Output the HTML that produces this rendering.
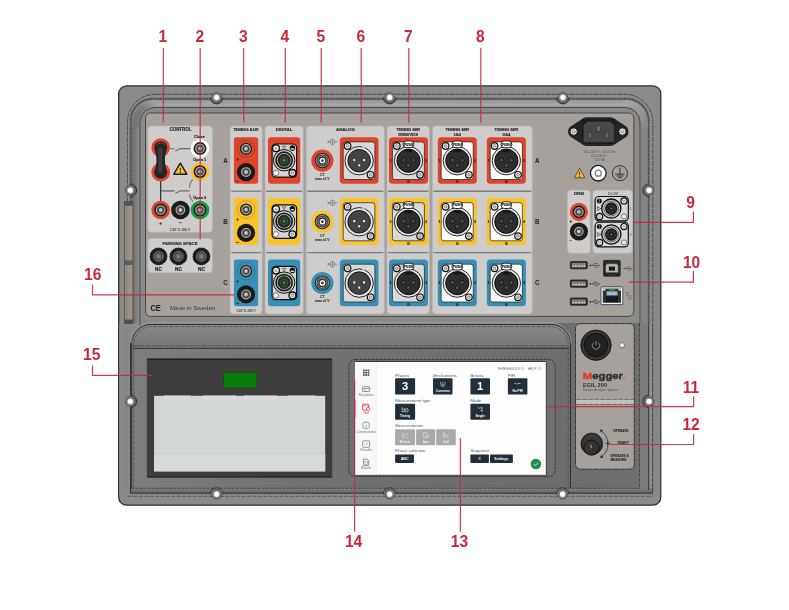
<!DOCTYPE html>
<html lang="en"><head><meta charset="utf-8"><title>EGIL 200 panel overview</title>
<style>
html,body{margin:0;padding:0;background:#fff;}
body{width:789px;height:610px;overflow:hidden;font-family:"Liberation Sans",sans-serif;}
svg{display:block;font-family:"Liberation Sans",sans-serif;will-change:transform;}
</style></head>
<body>
<svg width="789" height="610" viewBox="0 0 789 610">
<rect x="0" y="0" width="789" height="610" fill="#ffffff"/>
<defs>
<linearGradient id="chanH" x1="0" y1="0" x2="0" y2="1"><stop offset="0" stop-color="#8e8e8e"/><stop offset="0.45" stop-color="#a6a6a6"/><stop offset="1" stop-color="#8a8a8a"/></linearGradient>
<linearGradient id="cover1" x1="0" y1="0" x2="0" y2="1"><stop offset="0" stop-color="#8a8a8a"/><stop offset="1" stop-color="#777777"/></linearGradient>
<linearGradient id="cover2" x1="0" y1="0" x2="0" y2="1"><stop offset="0" stop-color="#747474"/><stop offset="1" stop-color="#6c6c6c"/></linearGradient>
<radialGradient id="knob" cx="0.5" cy="0.5" r="0.5"><stop offset="0" stop-color="#3a3a3a"/><stop offset="0.7" stop-color="#1c1c1c"/><stop offset="1" stop-color="#2c2c2c"/></radialGradient>
</defs>
<rect x="118.70" y="85.80" width="542.10" height="419.40" rx="8" fill="#8a8a8a" stroke="#303030" stroke-width="1.3" />
<path d="M155.4,94.3 H624.8 A28,28 0 0 1 652.8,122.3 V496.2 H127.4 V122.3 A28,28 0 0 1 155.4,94.3 Z" fill="#8c8c8c"/>
<path d="M130.8,324 V120.7 A22,22 0 0 1 152.8,98.7 H626.6 A22,22 0 0 1 648.6,120.7 V324" fill="none" stroke="#505050" stroke-width="2.0" stroke-dasharray="2.2 0.35"/>
<linearGradient id="bandT" gradientUnits="userSpaceOnUse" x1="0" y1="100" x2="0" y2="107"><stop offset="0" stop-color="#959595"/><stop offset="0.6" stop-color="#a6a6a6"/><stop offset="1" stop-color="#9a9a9a"/></linearGradient>
<linearGradient id="bandCL" gradientUnits="userSpaceOnUse" x1="136" y1="122" x2="156" y2="103"><stop offset="0" stop-color="#747474"/><stop offset="0.55" stop-color="#7e7e7e"/><stop offset="1" stop-color="#a2a2a2"/></linearGradient>
<linearGradient id="bandCR" gradientUnits="userSpaceOnUse" x1="644" y1="122" x2="624" y2="103"><stop offset="0" stop-color="#8a8a8a"/><stop offset="0.5" stop-color="#9a9a9a"/><stop offset="1" stop-color="#a6a6a6"/></linearGradient>
<rect x="154.00" y="100.10" width="472.00" height="6.80" fill="url(#bandT)" />
<path d="M135.6,128 V123 A19.6,19.6 0 0 1 155.2,103.4" fill="none" stroke="url(#bandCL)" stroke-width="6.7"/>
<path d="M644.4,128 V123 A19.6,19.6 0 0 0 624.8,103.4" fill="none" stroke="url(#bandCR)" stroke-width="6.7"/>
<linearGradient id="sideL" x1="0" y1="0" x2="1" y2="0"><stop offset="0" stop-color="#6c6c6c"/><stop offset="1" stop-color="#8c8c8c"/></linearGradient>
<rect x="131.80" y="127.00" width="7.80" height="196.00" fill="url(#sideL)" />
<rect x="641.00" y="127.00" width="6.60" height="196.00" fill="#858585" />
<path d="M155.4,94.3 H624.8 A28,28 0 0 1 652.8,122.3 V496.2 M127.4,496.2 V122.3 A28,28 0 0 1 155.4,94.3" fill="none" stroke="#3c3c3c" stroke-width="0.8" stroke-dasharray="5 1"/>
<path d="M155,107.5 H625 A15,15 0 0 1 640,122.5 V493.2 H140 V122.5 A15,15 0 0 1 155,107.5 Z" fill="#8a8a8a" stroke="#3a3a3a" stroke-width="0.8"/>
<rect x="119.40" y="323.00" width="11.10" height="173.20" fill="#888888" />
<rect x="652.80" y="323.00" width="7.40" height="173.20" fill="#888888" />
<rect x="127.40" y="493.20" width="525.40" height="3.20" fill="#8a8a8a" />
<linearGradient id="floorg" gradientUnits="userSpaceOnUse" x1="134" y1="0" x2="640" y2="0"><stop offset="0" stop-color="#7d7d7d"/><stop offset="0.35" stop-color="#727272"/><stop offset="0.8" stop-color="#6c6c6c"/><stop offset="1" stop-color="#707070"/></linearGradient>
<path d="M130.5,343 A20,20 0 0 1 150.5,323 H652.6 V493.2 H130.5 Z" fill="url(#floorg)"/>
<rect x="130.50" y="488.30" width="522.10" height="4.90" fill="url(#botg)" />
<linearGradient id="botg" x1="0" y1="0" x2="0" y2="1"><stop offset="0" stop-color="#7e7e7e"/><stop offset="1" stop-color="#666666"/></linearGradient>
<rect x="639.50" y="323.00" width="8.90" height="165.30" fill="#7c7c7c" />
<rect x="649.00" y="323.00" width="3.20" height="165.00" fill="#8e8e8e" />
<line x1="648.70" y1="323.00" x2="648.70" y2="490.00" stroke="#333" stroke-width="0.9" />
<line x1="639.40" y1="323.00" x2="639.40" y2="488.30" stroke="#3a3a3a" stroke-width="0.8" stroke-dasharray="4 1"/>
<line x1="652.60" y1="323.00" x2="652.60" y2="493.00" stroke="#3a3a3a" stroke-width="0.8" stroke-dasharray="4 1"/>
<line x1="130.50" y1="343.00" x2="130.50" y2="493.20" stroke="#333" stroke-width="1.0" />
<line x1="126.20" y1="330.00" x2="126.20" y2="490.00" stroke="#666" stroke-width="0.6" stroke-dasharray="3 1"/>
<line x1="131.00" y1="488.30" x2="640.00" y2="488.30" stroke="#3c3c3c" stroke-width="0.8" stroke-dasharray="3 1.2"/>
<line x1="130.50" y1="493.20" x2="652.60" y2="493.20" stroke="#2e2e2e" stroke-width="0.9" />
<line x1="128.00" y1="496.30" x2="652.60" y2="496.30" stroke="#444" stroke-width="0.7" stroke-dasharray="4 1.4"/>
<path d="M131.7,346.5 V343 A20,20 0 0 1 151.7,323 H550.5 A20,20 0 0 1 570.5,343 V346.5 Z" fill="url(#cover1)"/>
<path d="M131.7,488 V343.6 A19.2,19.2 0 0 1 150.9,324.4 H551.3 A19.2,19.2 0 0 1 570.5,343.6 V488" fill="none" stroke="#2e2e2e" stroke-width="1.0"/>
<path d="M131.0,343 A20.4,20.4 0 0 1 151.4,322.8 H551 A20.4,20.4 0 0 1 571.2,343" fill="none" stroke="#b0b0b0" stroke-width="0.6"/>
<path d="M133.8,488 V345 A18,18 0 0 1 151.8,326.6 H550.2 A18,18 0 0 1 568.2,345 V488" fill="none" stroke="#4a4a4a" stroke-width="0.7" stroke-dasharray="4 1.4"/>
<line x1="133.00" y1="345.70" x2="569.00" y2="345.70" stroke="#4c4c4c" stroke-width="0.8" stroke-dasharray="5 1.2"/>
<line x1="133.00" y1="348.30" x2="569.00" y2="348.30" stroke="#333" stroke-width="1.0" />
<rect x="124.60" y="201.40" width="8.40" height="122.20" fill="#9a9386" stroke="#484848" stroke-width="0.8" />
<rect x="126.00" y="206.00" width="1.40" height="114.00" fill="#8a8478" />
<rect x="124.60" y="201.40" width="8.40" height="4.40" fill="#555555" />
<rect x="124.60" y="260.40" width="8.40" height="4.60" fill="#5e5e5e" />
<rect x="124.60" y="319.60" width="8.40" height="4.00" fill="#4e4e4e" />
<path d="M210.20,97.50 A6.4,6.4 0 0 0 223.00,97.50 Z" fill="#6e6e6e"/>
<path d="M210.20,97.50 A6.4,6.4 0 0 0 223.00,97.50" fill="none" stroke="#2e2e2e" stroke-width="1.0"/>
<circle cx="216.60" cy="97.50" r="4.80" fill="#969696" stroke="#3c3c3c" stroke-width="0.8" />
<circle cx="216.60" cy="97.50" r="3.25" fill="#ffffff" stroke="#3a3a3a" stroke-width="0.6" />
<path d="M383.30,97.50 A6.4,6.4 0 0 0 396.10,97.50 Z" fill="#6e6e6e"/>
<path d="M383.30,97.50 A6.4,6.4 0 0 0 396.10,97.50" fill="none" stroke="#2e2e2e" stroke-width="1.0"/>
<circle cx="389.70" cy="97.50" r="4.80" fill="#969696" stroke="#3c3c3c" stroke-width="0.8" />
<circle cx="389.70" cy="97.50" r="3.25" fill="#ffffff" stroke="#3a3a3a" stroke-width="0.6" />
<path d="M556.50,97.50 A6.4,6.4 0 0 0 569.30,97.50 Z" fill="#6e6e6e"/>
<path d="M556.50,97.50 A6.4,6.4 0 0 0 569.30,97.50" fill="none" stroke="#2e2e2e" stroke-width="1.0"/>
<circle cx="562.90" cy="97.50" r="4.80" fill="#969696" stroke="#3c3c3c" stroke-width="0.8" />
<circle cx="562.90" cy="97.50" r="3.25" fill="#ffffff" stroke="#3a3a3a" stroke-width="0.6" />
<path d="M210.20,494.20 A6.4,6.4 0 0 1 223.00,494.20 Z" fill="#868686"/>
<path d="M210.20,494.20 A6.4,6.4 0 0 1 223.00,494.20" fill="none" stroke="#2e2e2e" stroke-width="1.0"/>
<circle cx="216.60" cy="494.20" r="4.80" fill="#969696" stroke="#3c3c3c" stroke-width="0.8" />
<circle cx="216.60" cy="494.20" r="3.25" fill="#ffffff" stroke="#3a3a3a" stroke-width="0.6" />
<path d="M383.30,494.20 A6.4,6.4 0 0 1 396.10,494.20 Z" fill="#868686"/>
<path d="M383.30,494.20 A6.4,6.4 0 0 1 396.10,494.20" fill="none" stroke="#2e2e2e" stroke-width="1.0"/>
<circle cx="389.70" cy="494.20" r="4.80" fill="#969696" stroke="#3c3c3c" stroke-width="0.8" />
<circle cx="389.70" cy="494.20" r="3.25" fill="#ffffff" stroke="#3a3a3a" stroke-width="0.6" />
<path d="M556.20,494.20 A6.4,6.4 0 0 1 569.00,494.20 Z" fill="#868686"/>
<path d="M556.20,494.20 A6.4,6.4 0 0 1 569.00,494.20" fill="none" stroke="#2e2e2e" stroke-width="1.0"/>
<circle cx="562.60" cy="494.20" r="4.80" fill="#969696" stroke="#3c3c3c" stroke-width="0.8" />
<circle cx="562.60" cy="494.20" r="3.25" fill="#ffffff" stroke="#3a3a3a" stroke-width="0.6" />
<path d="M130.30,183.90 A6.4,6.4 0 0 1 130.30,196.70 Z" fill="#6a6a6a"/>
<path d="M130.30,183.90 A6.4,6.4 0 0 1 130.30,196.70" fill="none" stroke="#2e2e2e" stroke-width="1.0"/>
<circle cx="130.30" cy="190.30" r="4.80" fill="#969696" stroke="#3c3c3c" stroke-width="0.8" />
<circle cx="130.30" cy="190.30" r="3.25" fill="#ffffff" stroke="#3a3a3a" stroke-width="0.6" />
<path d="M649.10,183.90 A6.4,6.4 0 0 0 649.10,196.70 Z" fill="#787878"/>
<path d="M649.10,183.90 A6.4,6.4 0 0 0 649.10,196.70" fill="none" stroke="#2e2e2e" stroke-width="1.0"/>
<circle cx="649.10" cy="190.30" r="4.80" fill="#969696" stroke="#3c3c3c" stroke-width="0.8" />
<circle cx="649.10" cy="190.30" r="3.25" fill="#ffffff" stroke="#3a3a3a" stroke-width="0.6" />
<path d="M130.30,395.00 A6.4,6.4 0 0 1 130.30,407.80 Z" fill="#6a6a6a"/>
<path d="M130.30,395.00 A6.4,6.4 0 0 1 130.30,407.80" fill="none" stroke="#2e2e2e" stroke-width="1.0"/>
<circle cx="130.30" cy="401.40" r="4.80" fill="#969696" stroke="#3c3c3c" stroke-width="0.8" />
<circle cx="130.30" cy="401.40" r="3.25" fill="#ffffff" stroke="#3a3a3a" stroke-width="0.6" />
<path d="M649.10,395.00 A6.4,6.4 0 0 0 649.10,407.80 Z" fill="#787878"/>
<path d="M649.10,395.00 A6.4,6.4 0 0 0 649.10,407.80" fill="none" stroke="#2e2e2e" stroke-width="1.0"/>
<circle cx="649.10" cy="401.40" r="4.80" fill="#969696" stroke="#3c3c3c" stroke-width="0.8" />
<circle cx="649.10" cy="401.40" r="3.25" fill="#ffffff" stroke="#3a3a3a" stroke-width="0.6" />
<rect x="145.50" y="113.00" width="488.30" height="203.40" rx="5" fill="#a6a19c" stroke="#3f3f3f" stroke-width="0.9" />
<rect x="147.90" y="126.00" width="64.50" height="106.20" rx="3.5" fill="#cecdcc" stroke="#bab7b3" stroke-width="0.5" />
<text x="169.45" y="131.40" font-size="4.45" font-weight="bold" fill="#262626" text-anchor="start"  textLength="22.1" lengthAdjust="spacingAndGlyphs" stroke="#262626" stroke-width="0.15">CONTROL</text>
<line x1="160.70" y1="181.00" x2="160.70" y2="201.00" stroke="#1c1c1c" stroke-width="1.1" />
<path d="M170.2,148.7 H174.6 M175.4,151.0 L180.4,148.6 H191" fill="none" stroke="#6e6e6e" stroke-width="1.1"/>
<path d="M161,190.9 H174.6" fill="none" stroke="#777" stroke-width="1.6"/>
<path d="M175.4,193.2 L180.4,190.8 H189.6" fill="none" stroke="#6e6e6e" stroke-width="1.2"/>
<path d="M192.8,179.6 Q189.6,182.6 189.5,187.4 M189.5,194.2 Q189.8,198.2 193.0,201.6" fill="none" stroke="#6e6e6e" stroke-width="1.1"/>
<circle cx="160.70" cy="147.60" r="9.30" fill="#dd452c" />
<circle cx="160.70" cy="147.60" r="6.42" fill="#1e1e1e" />
<circle cx="160.70" cy="147.60" r="4.28" fill="#484848" stroke="#b2b2b2" stroke-width="1.15" />
<circle cx="160.70" cy="147.60" r="1.97" fill="#b4b4b4" />
<circle cx="160.40" cy="147.30" r="0.86" fill="#d8d8d8" />
<circle cx="160.70" cy="172.20" r="9.30" fill="#dd452c" />
<circle cx="160.70" cy="172.20" r="6.42" fill="#1e1e1e" />
<circle cx="160.70" cy="172.20" r="4.28" fill="#484848" stroke="#b2b2b2" stroke-width="1.15" />
<circle cx="160.70" cy="172.20" r="1.97" fill="#b4b4b4" />
<circle cx="160.40" cy="171.90" r="0.86" fill="#d8d8d8" />
<path d="M155.2,148.6 A5.5,5.5 0 0 1 166.2,148.6 C166.2,153 164.9,155 164.9,160 C164.9,165 166.2,167 166.2,171.8 A5.5,5.5 0 0 1 155.2,171.8 C155.2,167 156.5,165 156.5,160 C156.5,155 155.2,153 155.2,148.6 Z" fill="#242424"/>
<rect x="158.20" y="147.50" width="4.20" height="25.50" rx="2.1" fill="#3c3c3c" />
<text x="199.40" y="138.40" font-size="3.8" font-weight="bold" fill="#222" text-anchor="middle"  stroke="#222" stroke-width="0.15">Close</text>
<text x="199.70" y="161.30" font-size="3.8" font-weight="bold" fill="#222" text-anchor="middle"  stroke="#222" stroke-width="0.15">Open 1</text>
<text x="199.70" y="199.20" font-size="3.8" font-weight="bold" fill="#222" text-anchor="middle"  stroke="#222" stroke-width="0.15">Open 2</text>
<circle cx="200.00" cy="148.50" r="9.30" fill="#ffffff" stroke="#bbb" stroke-width="0.3" />
<circle cx="200.00" cy="148.50" r="9.30" fill="#ffffff" />
<circle cx="200.00" cy="148.50" r="6.42" fill="#1e1e1e" />
<circle cx="200.00" cy="148.50" r="4.28" fill="#484848" stroke="#b2b2b2" stroke-width="1.15" />
<circle cx="200.00" cy="148.50" r="1.97" fill="#b4b4b4" />
<circle cx="199.70" cy="148.20" r="0.86" fill="#d8d8d8" />
<circle cx="200.00" cy="171.60" r="9.30" fill="#fac32c" />
<circle cx="200.00" cy="171.60" r="6.42" fill="#1e1e1e" />
<circle cx="200.00" cy="171.60" r="4.28" fill="#484848" stroke="#b2b2b2" stroke-width="1.15" />
<circle cx="200.00" cy="171.60" r="1.97" fill="#b4b4b4" />
<circle cx="199.70" cy="171.30" r="0.86" fill="#d8d8d8" />
<circle cx="200.00" cy="210.00" r="9.30" fill="#1e9a45" />
<circle cx="200.00" cy="210.00" r="6.42" fill="#1e1e1e" />
<circle cx="200.00" cy="210.00" r="4.28" fill="#484848" stroke="#b2b2b2" stroke-width="1.15" />
<circle cx="200.00" cy="210.00" r="1.97" fill="#b4b4b4" />
<circle cx="199.70" cy="209.70" r="0.86" fill="#d8d8d8" />
<circle cx="160.70" cy="210.00" r="9.30" fill="#dd452c" />
<circle cx="160.70" cy="210.00" r="6.42" fill="#1e1e1e" />
<circle cx="160.70" cy="210.00" r="4.28" fill="#484848" stroke="#b2b2b2" stroke-width="1.15" />
<circle cx="160.70" cy="210.00" r="1.97" fill="#b4b4b4" />
<circle cx="160.40" cy="209.70" r="0.86" fill="#d8d8d8" />
<circle cx="180.40" cy="210.00" r="9.30" fill="#1c1c1c" />
<circle cx="180.40" cy="210.00" r="6.42" fill="#1e1e1e" />
<circle cx="180.40" cy="210.00" r="4.28" fill="#484848" stroke="#b2b2b2" stroke-width="1.15" />
<circle cx="180.40" cy="210.00" r="1.97" fill="#b4b4b4" />
<circle cx="180.10" cy="209.70" r="0.86" fill="#d8d8d8" />
<path d="M180.3,163.2 L186.8,174.2 H173.8 Z" fill="#f6c22c" stroke="#1a1a1a" stroke-width="1.4" stroke-linejoin="round"/>
<text x="180.30" y="173.40" font-size="7.6" font-weight="bold" fill="#1a1a1a" text-anchor="middle" >!</text>
<text x="160.70" y="225.20" font-size="6" font-weight="bold" fill="#222" text-anchor="middle" >+</text>
<text x="180.40" y="225.00" font-size="6" font-weight="bold" fill="#222" text-anchor="middle" >−</text>
<text x="180.20" y="230.60" font-size="3.4" font-weight="bold" fill="#666" text-anchor="middle"  stroke="#666" stroke-width="0.15">CAT II. 250 V</text>
<rect x="147.90" y="238.50" width="64.50" height="34.20" rx="3.5" fill="#cecdcc" stroke="#bab7b3" stroke-width="0.5" />
<text x="162.45" y="244.60" font-size="4.25" font-weight="bold" fill="#262626" text-anchor="start"  textLength="35.1" lengthAdjust="spacingAndGlyphs" stroke="#262626" stroke-width="0.15">PARKING SPACE</text>
<circle cx="158.50" cy="256.40" r="8.50" fill="#1d1d1d" stroke="#1d1d1d" stroke-width="0.9" stroke-dasharray="1.6 1.2"/>
<circle cx="158.50" cy="256.40" r="8.40" fill="#1d1d1d" />
<circle cx="158.50" cy="256.40" r="4.70" fill="#2a2a2a" stroke="#a4a4a4" stroke-width="0.8" />
<circle cx="158.50" cy="256.40" r="2.90" fill="#5e5e5e" stroke="#8a8a8a" stroke-width="0.5" />
<circle cx="158.50" cy="256.40" r="1.10" fill="#9a9a9a" />
<text x="158.50" y="271.40" font-size="4.7" font-weight="bold" fill="#1c1c1c" text-anchor="middle"  stroke="#1c1c1c" stroke-width="0.15">NC</text>
<circle cx="178.40" cy="256.40" r="8.50" fill="#1d1d1d" stroke="#1d1d1d" stroke-width="0.9" stroke-dasharray="1.6 1.2"/>
<circle cx="178.40" cy="256.40" r="8.40" fill="#1d1d1d" />
<circle cx="178.40" cy="256.40" r="4.70" fill="#2a2a2a" stroke="#a4a4a4" stroke-width="0.8" />
<circle cx="178.40" cy="256.40" r="2.90" fill="#5e5e5e" stroke="#8a8a8a" stroke-width="0.5" />
<circle cx="178.40" cy="256.40" r="1.10" fill="#9a9a9a" />
<text x="178.40" y="271.40" font-size="4.7" font-weight="bold" fill="#1c1c1c" text-anchor="middle"  stroke="#1c1c1c" stroke-width="0.15">NC</text>
<circle cx="201.40" cy="256.40" r="8.50" fill="#1d1d1d" stroke="#1d1d1d" stroke-width="0.9" stroke-dasharray="1.6 1.2"/>
<circle cx="201.40" cy="256.40" r="8.40" fill="#1d1d1d" />
<circle cx="201.40" cy="256.40" r="4.70" fill="#2a2a2a" stroke="#a4a4a4" stroke-width="0.8" />
<circle cx="201.40" cy="256.40" r="2.90" fill="#5e5e5e" stroke="#8a8a8a" stroke-width="0.5" />
<circle cx="201.40" cy="256.40" r="1.10" fill="#9a9a9a" />
<text x="201.40" y="271.40" font-size="4.7" font-weight="bold" fill="#1c1c1c" text-anchor="middle"  stroke="#1c1c1c" stroke-width="0.15">NC</text>
<text x="150.40" y="310.90" font-size="9.8" font-weight="bold" fill="#1e1e1e" text-anchor="start"  textLength="10.4" lengthAdjust="spacingAndGlyphs">CE</text>
<text x="170.00" y="310.40" font-size="6.1" font-weight="normal" fill="#3c3c3c" text-anchor="start"  textLength="45.2" lengthAdjust="spacingAndGlyphs">Made in Sweden</text>
<text x="225.60" y="162.70" font-size="6.3" font-weight="bold" fill="#262626" text-anchor="middle" >A</text>
<text x="537.30" y="162.70" font-size="6.3" font-weight="bold" fill="#262626" text-anchor="middle" >A</text>
<text x="225.60" y="223.70" font-size="6.3" font-weight="bold" fill="#262626" text-anchor="middle" >B</text>
<text x="537.30" y="223.70" font-size="6.3" font-weight="bold" fill="#262626" text-anchor="middle" >B</text>
<text x="225.60" y="285.00" font-size="6.3" font-weight="bold" fill="#262626" text-anchor="middle" >C</text>
<text x="537.30" y="285.00" font-size="6.3" font-weight="bold" fill="#262626" text-anchor="middle" >C</text>
<rect x="230.20" y="126.00" width="31.90" height="188.00" rx="3.5" fill="#cecdcc" stroke="#bab7b3" stroke-width="0.5" />
<text x="233.45" y="131.40" font-size="4.3" font-weight="bold" fill="#262626" text-anchor="start"  textLength="25.3" lengthAdjust="spacingAndGlyphs" stroke="#262626" stroke-width="0.15">TIMING AUX</text>
<line x1="231.20" y1="191.20" x2="261.10" y2="191.20" stroke="#808080" stroke-width="1.4" />
<line x1="231.20" y1="252.60" x2="261.10" y2="252.60" stroke="#808080" stroke-width="1.4" />
<rect x="233.90" y="137.30" width="24.30" height="46.40" rx="2.5" fill="#dd452c" />
<circle cx="246.05" cy="148.80" r="8.80" fill="none" stroke="#00000048" stroke-width="0.6" />
<circle cx="246.05" cy="148.80" r="6.10" fill="#1e1e1e" />
<circle cx="246.05" cy="148.80" r="4.20" fill="#484848" stroke="#b2b2b2" stroke-width="1.15" />
<circle cx="246.05" cy="148.80" r="1.93" fill="#b4b4b4" />
<circle cx="245.75" cy="148.50" r="0.84" fill="#d8d8d8" />
<circle cx="246.05" cy="172.10" r="9.10" fill="#1a1a1a" />
<circle cx="246.05" cy="172.10" r="4.40" fill="#484848" stroke="#b2b2b2" stroke-width="1.15" />
<circle cx="246.05" cy="172.10" r="2.02" fill="#b4b4b4" />
<circle cx="245.75" cy="171.80" r="0.88" fill="#d8d8d8" />
<text x="237.80" y="160.60" font-size="5.0" font-weight="bold" fill="#3a1a12" text-anchor="middle"  stroke="#3a1a12" stroke-width="0.15">+</text>
<text x="237.80" y="182.90" font-size="5.0" font-weight="bold" fill="#2a1a12" text-anchor="middle"  stroke="#2a1a12" stroke-width="0.15">−</text>
<rect x="233.90" y="198.10" width="24.30" height="46.90" rx="2.5" fill="#fac32c" />
<circle cx="246.05" cy="209.60" r="8.80" fill="none" stroke="#00000048" stroke-width="0.6" />
<circle cx="246.05" cy="209.60" r="6.10" fill="#1e1e1e" />
<circle cx="246.05" cy="209.60" r="4.20" fill="#484848" stroke="#b2b2b2" stroke-width="1.15" />
<circle cx="246.05" cy="209.60" r="1.93" fill="#b4b4b4" />
<circle cx="245.75" cy="209.30" r="0.84" fill="#d8d8d8" />
<circle cx="246.05" cy="232.90" r="9.10" fill="#1a1a1a" />
<circle cx="246.05" cy="232.90" r="4.40" fill="#484848" stroke="#b2b2b2" stroke-width="1.15" />
<circle cx="246.05" cy="232.90" r="2.02" fill="#b4b4b4" />
<circle cx="245.75" cy="232.60" r="0.88" fill="#d8d8d8" />
<text x="237.80" y="221.40" font-size="5.0" font-weight="bold" fill="#2a2a2a" text-anchor="middle"  stroke="#2a2a2a" stroke-width="0.15">+</text>
<text x="237.80" y="243.70" font-size="5.0" font-weight="bold" fill="#2a2a2a" text-anchor="middle"  stroke="#2a2a2a" stroke-width="0.15">−</text>
<rect x="233.90" y="259.60" width="24.30" height="46.60" rx="2.5" fill="#3790b3" />
<circle cx="246.05" cy="271.10" r="8.80" fill="none" stroke="#00000048" stroke-width="0.6" />
<circle cx="246.05" cy="271.10" r="6.10" fill="#1e1e1e" />
<circle cx="246.05" cy="271.10" r="4.20" fill="#484848" stroke="#b2b2b2" stroke-width="1.15" />
<circle cx="246.05" cy="271.10" r="1.93" fill="#b4b4b4" />
<circle cx="245.75" cy="270.80" r="0.84" fill="#d8d8d8" />
<circle cx="246.05" cy="294.40" r="9.10" fill="#1a1a1a" />
<circle cx="246.05" cy="294.40" r="4.40" fill="#484848" stroke="#b2b2b2" stroke-width="1.15" />
<circle cx="246.05" cy="294.40" r="2.02" fill="#b4b4b4" />
<circle cx="245.75" cy="294.10" r="0.88" fill="#d8d8d8" />
<text x="237.80" y="282.90" font-size="5.0" font-weight="bold" fill="#2a2a2a" text-anchor="middle"  stroke="#2a2a2a" stroke-width="0.15">+</text>
<text x="237.80" y="305.20" font-size="5.0" font-weight="bold" fill="#2a2a2a" text-anchor="middle"  stroke="#2a2a2a" stroke-width="0.15">−</text>
<text x="246.10" y="312.40" font-size="3.2" font-weight="bold" fill="#666" text-anchor="middle"  stroke="#666" stroke-width="0.15">CAT II. 250 V</text>
<rect x="265.00" y="126.00" width="38.30" height="188.00" rx="3.5" fill="#cecdcc" stroke="#bab7b3" stroke-width="0.5" />
<text x="275.85" y="131.40" font-size="4.2" font-weight="bold" fill="#262626" text-anchor="start"  textLength="16.7" lengthAdjust="spacingAndGlyphs" stroke="#262626" stroke-width="0.15">DIGITAL</text>
<line x1="266.00" y1="191.20" x2="302.30" y2="191.20" stroke="#808080" stroke-width="1.4" />
<line x1="266.00" y1="252.60" x2="302.30" y2="252.60" stroke="#808080" stroke-width="1.4" />
<rect x="268.00" y="137.30" width="32.20" height="46.40" rx="3" fill="#dd452c" />
<rect x="272.10" y="144.00" width="24.50" height="33.10" rx="3.6" fill="#d6d6d6" stroke="#0e0e0e" stroke-width="1.2" />
<circle cx="284.15" cy="160.25" r="10.70" fill="#cfcfcf" stroke="#0e0e0e" stroke-width="1.0" />
<circle cx="284.15" cy="160.25" r="8.90" fill="#1c1c1c" />
<circle cx="284.15" cy="160.25" r="7.20" fill="#d8d8d8" />
<circle cx="284.15" cy="160.25" r="6.20" fill="#253225" stroke="#0e0e0e" stroke-width="0.7" />
<circle cx="284.15" cy="160.25" r="3.40" fill="none" stroke="#4c9a56" stroke-width="0.7" stroke-dasharray="1 0.8"/>
<circle cx="284.15" cy="160.25" r="1.20" fill="#4c9a56" />
<circle cx="276.00" cy="148.30" r="3.40" fill="#ededed" stroke="#0e0e0e" stroke-width="1.3" />
<path d="M274.80,149.10 l1.2,-2.0 l1.2,2.0 z" fill="none" stroke="#555" stroke-width="0.4"/>
<circle cx="292.40" cy="172.90" r="3.40" fill="#ededed" stroke="#0e0e0e" stroke-width="1.3" />
<circle cx="292.40" cy="172.90" r="1.30" fill="#ddd" stroke="#444" stroke-width="0.5" />
<circle cx="276.00" cy="172.90" r="2.70" fill="#f4f4f4" stroke="#444" stroke-width="0.6" />
<circle cx="292.40" cy="148.10" r="2.80" fill="#111" />
<rect x="290.60" y="148.30" width="3.60" height="1.30" fill="#eee" />
<path d="M282.35,146.00 h3.6 l-1.8,2.8 z" fill="none" stroke="#222" stroke-width="0.5"/>
<rect x="268.00" y="198.10" width="32.20" height="46.90" rx="3" fill="#fac32c" />
<rect x="272.10" y="204.80" width="24.50" height="33.60" rx="3.6" fill="#d6d6d6" stroke="#0e0e0e" stroke-width="1.2" />
<circle cx="284.15" cy="221.30" r="10.70" fill="#cfcfcf" stroke="#0e0e0e" stroke-width="1.0" />
<circle cx="284.15" cy="221.30" r="8.90" fill="#1c1c1c" />
<circle cx="284.15" cy="221.30" r="7.20" fill="#d8d8d8" />
<circle cx="284.15" cy="221.30" r="6.20" fill="#253225" stroke="#0e0e0e" stroke-width="0.7" />
<circle cx="284.15" cy="221.30" r="3.40" fill="none" stroke="#4c9a56" stroke-width="0.7" stroke-dasharray="1 0.8"/>
<circle cx="284.15" cy="221.30" r="1.20" fill="#4c9a56" />
<circle cx="276.00" cy="209.10" r="3.40" fill="#ededed" stroke="#0e0e0e" stroke-width="1.3" />
<path d="M274.80,209.90 l1.2,-2.0 l1.2,2.0 z" fill="none" stroke="#555" stroke-width="0.4"/>
<circle cx="292.40" cy="234.20" r="3.40" fill="#ededed" stroke="#0e0e0e" stroke-width="1.3" />
<circle cx="292.40" cy="234.20" r="1.30" fill="#ddd" stroke="#444" stroke-width="0.5" />
<circle cx="276.00" cy="234.20" r="2.70" fill="#f4f4f4" stroke="#444" stroke-width="0.6" />
<circle cx="292.40" cy="208.90" r="2.80" fill="#111" />
<rect x="290.60" y="209.10" width="3.60" height="1.30" fill="#eee" />
<path d="M282.35,206.80 h3.6 l-1.8,2.8 z" fill="none" stroke="#222" stroke-width="0.5"/>
<rect x="268.00" y="259.60" width="32.20" height="46.60" rx="3" fill="#3790b3" />
<rect x="272.10" y="266.30" width="24.50" height="33.30" rx="3.6" fill="#d6d6d6" stroke="#0e0e0e" stroke-width="1.2" />
<circle cx="284.15" cy="282.65" r="10.70" fill="#cfcfcf" stroke="#0e0e0e" stroke-width="1.0" />
<circle cx="284.15" cy="282.65" r="8.90" fill="#1c1c1c" />
<circle cx="284.15" cy="282.65" r="7.20" fill="#d8d8d8" />
<circle cx="284.15" cy="282.65" r="6.20" fill="#253225" stroke="#0e0e0e" stroke-width="0.7" />
<circle cx="284.15" cy="282.65" r="3.40" fill="none" stroke="#4c9a56" stroke-width="0.7" stroke-dasharray="1 0.8"/>
<circle cx="284.15" cy="282.65" r="1.20" fill="#4c9a56" />
<circle cx="276.00" cy="270.60" r="3.40" fill="#ededed" stroke="#0e0e0e" stroke-width="1.3" />
<path d="M274.80,271.40 l1.2,-2.0 l1.2,2.0 z" fill="none" stroke="#555" stroke-width="0.4"/>
<circle cx="292.40" cy="295.40" r="3.40" fill="#ededed" stroke="#0e0e0e" stroke-width="1.3" />
<circle cx="292.40" cy="295.40" r="1.30" fill="#ddd" stroke="#444" stroke-width="0.5" />
<circle cx="276.00" cy="295.40" r="2.70" fill="#f4f4f4" stroke="#444" stroke-width="0.6" />
<circle cx="292.40" cy="270.40" r="2.80" fill="#111" />
<rect x="290.60" y="270.60" width="3.60" height="1.30" fill="#eee" />
<path d="M282.35,268.30 h3.6 l-1.8,2.8 z" fill="none" stroke="#222" stroke-width="0.5"/>
<rect x="306.30" y="126.00" width="78.00" height="188.00" rx="3.5" fill="#cecdcc" stroke="#bab7b3" stroke-width="0.5" />
<text x="336.05" y="131.40" font-size="4.3" font-weight="bold" fill="#262626" text-anchor="start"  textLength="18.7" lengthAdjust="spacingAndGlyphs" stroke="#262626" stroke-width="0.15">ANALOG</text>
<line x1="307.30" y1="191.20" x2="383.30" y2="191.20" stroke="#808080" stroke-width="1.4" />
<line x1="307.30" y1="252.60" x2="383.30" y2="252.60" stroke="#808080" stroke-width="1.4" />
<circle cx="322.40" cy="160.60" r="11.10" fill="#dd452c" />
<circle cx="322.40" cy="160.60" r="7.60" fill="#1e1e1e" />
<circle cx="322.40" cy="160.60" r="6.20" fill="none" stroke="#e8e8e8" stroke-width="0.6" />
<circle cx="322.40" cy="160.60" r="4.60" fill="none" stroke="#e8e8e8" stroke-width="0.6" />
<circle cx="322.40" cy="160.60" r="2.90" fill="#f0f0f0" />
<circle cx="322.40" cy="160.60" r="1.40" fill="#444" />
<text x="322.40" y="175.80" font-size="3.3" font-weight="bold" fill="#444" text-anchor="middle"  stroke="#444" stroke-width="0.15">CT</text>
<text x="322.40" y="179.90" font-size="3.3" font-weight="bold" fill="#444" text-anchor="middle"  stroke="#444" stroke-width="0.15">max ±1 V</text>
<circle cx="332.50" cy="141.80" r="2.60" fill="none" stroke="#555" stroke-width="0.45" />
<line x1="327.50" y1="141.80" x2="337.50" y2="141.80" stroke="#555" stroke-width="0.45" />
<line x1="332.50" y1="138.40" x2="332.50" y2="145.40" stroke="#555" stroke-width="0.45" />
<path d="M327.50,140.50 l2,1.3 l-2,1.3" fill="none" stroke="#555" stroke-width="0.45"/>
<rect x="339.80" y="137.30" width="38.70" height="46.40" rx="3.5" fill="#dd452c" />
<rect x="343.20" y="141.90" width="31.70" height="37.60" rx="2.5" fill="#d9d9d9" stroke="#1c1c1c" stroke-width="0.7" />
<circle cx="359.15" cy="160.70" r="14.20" fill="#e6e6e6" stroke="#161616" stroke-width="0.9" />
<circle cx="359.15" cy="160.70" r="11.30" fill="#444444" stroke="#0c0c0c" stroke-width="0.9" />
<circle cx="354.25" cy="160.10" r="1.15" fill="#f5f5f5" />
<circle cx="364.05" cy="160.10" r="1.15" fill="#f5f5f5" />
<circle cx="359.15" cy="165.30" r="1.15" fill="#f5f5f5" />
<rect x="362.35" y="146.10" width="2.00" height="2.60" fill="#d9d9d9" />
<circle cx="347.60" cy="146.00" r="3.30" fill="#ededed" stroke="#111" stroke-width="1.2" />
<circle cx="347.60" cy="146.00" r="1.40" fill="#d0d0d0" stroke="#555" stroke-width="0.5" />
<circle cx="370.60" cy="174.80" r="3.30" fill="#ededed" stroke="#111" stroke-width="1.2" />
<circle cx="370.60" cy="174.80" r="1.40" fill="#d0d0d0" stroke="#555" stroke-width="0.5" />
<circle cx="322.40" cy="221.65" r="11.10" fill="#fac32c" />
<circle cx="322.40" cy="221.65" r="7.60" fill="#1e1e1e" />
<circle cx="322.40" cy="221.65" r="6.20" fill="none" stroke="#e8e8e8" stroke-width="0.6" />
<circle cx="322.40" cy="221.65" r="4.60" fill="none" stroke="#e8e8e8" stroke-width="0.6" />
<circle cx="322.40" cy="221.65" r="2.90" fill="#f0f0f0" />
<circle cx="322.40" cy="221.65" r="1.40" fill="#444" />
<text x="322.40" y="236.85" font-size="3.3" font-weight="bold" fill="#444" text-anchor="middle"  stroke="#444" stroke-width="0.15">CT</text>
<text x="322.40" y="240.95" font-size="3.3" font-weight="bold" fill="#444" text-anchor="middle"  stroke="#444" stroke-width="0.15">max ±1 V</text>
<circle cx="332.50" cy="202.85" r="2.60" fill="none" stroke="#555" stroke-width="0.45" />
<line x1="327.50" y1="202.85" x2="337.50" y2="202.85" stroke="#555" stroke-width="0.45" />
<line x1="332.50" y1="199.45" x2="332.50" y2="206.45" stroke="#555" stroke-width="0.45" />
<path d="M327.50,201.55 l2,1.3 l-2,1.3" fill="none" stroke="#555" stroke-width="0.45"/>
<rect x="339.80" y="198.10" width="38.70" height="46.90" rx="3.5" fill="#fac32c" />
<rect x="343.20" y="202.70" width="31.70" height="38.10" rx="2.5" fill="#d9d9d9" stroke="#1c1c1c" stroke-width="0.7" />
<circle cx="359.15" cy="221.75" r="14.20" fill="#e6e6e6" stroke="#161616" stroke-width="0.9" />
<circle cx="359.15" cy="221.75" r="11.30" fill="#444444" stroke="#0c0c0c" stroke-width="0.9" />
<circle cx="354.25" cy="221.15" r="1.15" fill="#f5f5f5" />
<circle cx="364.05" cy="221.15" r="1.15" fill="#f5f5f5" />
<circle cx="359.15" cy="226.35" r="1.15" fill="#f5f5f5" />
<rect x="362.35" y="207.15" width="2.00" height="2.60" fill="#d9d9d9" />
<circle cx="347.60" cy="206.80" r="3.30" fill="#ededed" stroke="#111" stroke-width="1.2" />
<circle cx="347.60" cy="206.80" r="1.40" fill="#d0d0d0" stroke="#555" stroke-width="0.5" />
<circle cx="370.60" cy="236.10" r="3.30" fill="#ededed" stroke="#111" stroke-width="1.2" />
<circle cx="370.60" cy="236.10" r="1.40" fill="#d0d0d0" stroke="#555" stroke-width="0.5" />
<circle cx="322.40" cy="283.00" r="11.10" fill="#3790b3" />
<circle cx="322.40" cy="283.00" r="7.60" fill="#1e1e1e" />
<circle cx="322.40" cy="283.00" r="6.20" fill="none" stroke="#e8e8e8" stroke-width="0.6" />
<circle cx="322.40" cy="283.00" r="4.60" fill="none" stroke="#e8e8e8" stroke-width="0.6" />
<circle cx="322.40" cy="283.00" r="2.90" fill="#f0f0f0" />
<circle cx="322.40" cy="283.00" r="1.40" fill="#444" />
<text x="322.40" y="298.20" font-size="3.3" font-weight="bold" fill="#444" text-anchor="middle"  stroke="#444" stroke-width="0.15">CT</text>
<text x="322.40" y="302.30" font-size="3.3" font-weight="bold" fill="#444" text-anchor="middle"  stroke="#444" stroke-width="0.15">max ±1 V</text>
<circle cx="332.50" cy="264.20" r="2.60" fill="none" stroke="#555" stroke-width="0.45" />
<line x1="327.50" y1="264.20" x2="337.50" y2="264.20" stroke="#555" stroke-width="0.45" />
<line x1="332.50" y1="260.80" x2="332.50" y2="267.80" stroke="#555" stroke-width="0.45" />
<path d="M327.50,262.90 l2,1.3 l-2,1.3" fill="none" stroke="#555" stroke-width="0.45"/>
<rect x="339.80" y="259.60" width="38.70" height="46.60" rx="3.5" fill="#3790b3" />
<rect x="343.20" y="264.20" width="31.70" height="37.80" rx="2.5" fill="#d9d9d9" stroke="#1c1c1c" stroke-width="0.7" />
<circle cx="359.15" cy="283.10" r="14.20" fill="#e6e6e6" stroke="#161616" stroke-width="0.9" />
<circle cx="359.15" cy="283.10" r="11.30" fill="#444444" stroke="#0c0c0c" stroke-width="0.9" />
<circle cx="354.25" cy="282.50" r="1.15" fill="#f5f5f5" />
<circle cx="364.05" cy="282.50" r="1.15" fill="#f5f5f5" />
<circle cx="359.15" cy="287.70" r="1.15" fill="#f5f5f5" />
<rect x="362.35" y="268.50" width="2.00" height="2.60" fill="#d9d9d9" />
<circle cx="347.60" cy="268.30" r="3.30" fill="#ededed" stroke="#111" stroke-width="1.2" />
<circle cx="347.60" cy="268.30" r="1.40" fill="#d0d0d0" stroke="#555" stroke-width="0.5" />
<circle cx="370.60" cy="297.30" r="3.30" fill="#ededed" stroke="#111" stroke-width="1.2" />
<circle cx="370.60" cy="297.30" r="1.40" fill="#d0d0d0" stroke="#555" stroke-width="0.5" />
<rect x="387.00" y="126.00" width="42.40" height="188.00" rx="3.5" fill="#cecdcc" stroke="#bab7b3" stroke-width="0.5" />
<text x="396.50" y="130.80" font-size="4.2" font-weight="bold" fill="#262626" text-anchor="start"  textLength="23.6" lengthAdjust="spacingAndGlyphs" stroke="#262626" stroke-width="0.15">TIMING M/R</text>
<text x="398.15" y="135.70" font-size="4.2" font-weight="bold" fill="#262626" text-anchor="start"  textLength="19.9" lengthAdjust="spacingAndGlyphs" stroke="#262626" stroke-width="0.15">DRM/VDS</text>
<line x1="388.00" y1="191.20" x2="428.40" y2="191.20" stroke="#808080" stroke-width="1.4" />
<line x1="388.00" y1="252.60" x2="428.40" y2="252.60" stroke="#808080" stroke-width="1.4" />
<rect x="389.00" y="137.30" width="39.00" height="46.40" rx="3.5" fill="#dd452c" />
<rect x="392.40" y="141.90" width="32.00" height="37.60" rx="2.5" fill="#d9d9d9" stroke="#1c1c1c" stroke-width="0.7" />
<circle cx="408.50" cy="160.70" r="14.20" fill="#e6e6e6" stroke="#161616" stroke-width="0.9" />
<circle cx="408.50" cy="160.70" r="11.60" fill="#2e2e2e" stroke="#0c0c0c" stroke-width="1.0" />
<circle cx="403.70" cy="160.10" r="2.10" fill="#4e4e4e" stroke="#121212" stroke-width="0.8" />
<circle cx="413.30" cy="160.10" r="2.10" fill="#4e4e4e" stroke="#121212" stroke-width="0.8" />
<circle cx="408.50" cy="165.30" r="2.10" fill="#4e4e4e" stroke="#121212" stroke-width="0.8" />
<rect x="404.90" y="149.80" width="7.20" height="2.30" fill="#151515" />
<circle cx="396.80" cy="146.00" r="3.30" fill="#ededed" stroke="#111" stroke-width="1.2" />
<circle cx="396.80" cy="146.00" r="1.40" fill="#d0d0d0" stroke="#555" stroke-width="0.5" />
<circle cx="420.10" cy="174.80" r="3.30" fill="#ededed" stroke="#111" stroke-width="1.2" />
<circle cx="420.10" cy="174.80" r="1.40" fill="#d0d0d0" stroke="#555" stroke-width="0.5" />
<rect x="403.10" y="140.90" width="10.8" height="6.8" rx="3.4" fill="#ffffff" stroke="#111" stroke-width="0.9"/>
<text x="408.50" y="145.50" font-size="3.3" font-weight="bold" fill="#111" text-anchor="middle"  stroke="#111" stroke-width="0.15">PUSH</text>
<text x="390.70" y="162.00" font-size="3.4" font-weight="bold" fill="#222" text-anchor="middle"  stroke="#222" stroke-width="0.15">1</text>
<text x="426.30" y="162.00" font-size="3.4" font-weight="bold" fill="#222" text-anchor="middle"  stroke="#222" stroke-width="0.15">2</text>
<text x="408.50" y="183.30" font-size="3.4" font-weight="bold" fill="#222" text-anchor="middle"  stroke="#222" stroke-width="0.15">G</text>
<rect x="389.00" y="198.10" width="39.00" height="46.90" rx="3.5" fill="#fac32c" />
<rect x="392.40" y="202.70" width="32.00" height="38.10" rx="2.5" fill="#d9d9d9" stroke="#1c1c1c" stroke-width="0.7" />
<circle cx="408.50" cy="221.75" r="14.20" fill="#e6e6e6" stroke="#161616" stroke-width="0.9" />
<circle cx="408.50" cy="221.75" r="11.60" fill="#2e2e2e" stroke="#0c0c0c" stroke-width="1.0" />
<circle cx="403.70" cy="221.15" r="2.10" fill="#4e4e4e" stroke="#121212" stroke-width="0.8" />
<circle cx="413.30" cy="221.15" r="2.10" fill="#4e4e4e" stroke="#121212" stroke-width="0.8" />
<circle cx="408.50" cy="226.35" r="2.10" fill="#4e4e4e" stroke="#121212" stroke-width="0.8" />
<rect x="404.90" y="210.85" width="7.20" height="2.30" fill="#151515" />
<circle cx="396.80" cy="206.80" r="3.30" fill="#ededed" stroke="#111" stroke-width="1.2" />
<circle cx="396.80" cy="206.80" r="1.40" fill="#d0d0d0" stroke="#555" stroke-width="0.5" />
<circle cx="420.10" cy="236.10" r="3.30" fill="#ededed" stroke="#111" stroke-width="1.2" />
<circle cx="420.10" cy="236.10" r="1.40" fill="#d0d0d0" stroke="#555" stroke-width="0.5" />
<rect x="403.10" y="201.70" width="10.8" height="6.8" rx="3.4" fill="#ffffff" stroke="#111" stroke-width="0.9"/>
<text x="408.50" y="206.30" font-size="3.3" font-weight="bold" fill="#111" text-anchor="middle"  stroke="#111" stroke-width="0.15">PUSH</text>
<text x="390.70" y="223.05" font-size="3.4" font-weight="bold" fill="#222" text-anchor="middle"  stroke="#222" stroke-width="0.15">1</text>
<text x="426.30" y="223.05" font-size="3.4" font-weight="bold" fill="#222" text-anchor="middle"  stroke="#222" stroke-width="0.15">2</text>
<text x="408.50" y="244.60" font-size="3.4" font-weight="bold" fill="#222" text-anchor="middle"  stroke="#222" stroke-width="0.15">G</text>
<rect x="389.00" y="259.60" width="39.00" height="46.60" rx="3.5" fill="#3790b3" />
<rect x="392.40" y="264.20" width="32.00" height="37.80" rx="2.5" fill="#d9d9d9" stroke="#1c1c1c" stroke-width="0.7" />
<circle cx="408.50" cy="283.10" r="14.20" fill="#e6e6e6" stroke="#161616" stroke-width="0.9" />
<circle cx="408.50" cy="283.10" r="11.60" fill="#2e2e2e" stroke="#0c0c0c" stroke-width="1.0" />
<circle cx="403.70" cy="282.50" r="2.10" fill="#4e4e4e" stroke="#121212" stroke-width="0.8" />
<circle cx="413.30" cy="282.50" r="2.10" fill="#4e4e4e" stroke="#121212" stroke-width="0.8" />
<circle cx="408.50" cy="287.70" r="2.10" fill="#4e4e4e" stroke="#121212" stroke-width="0.8" />
<rect x="404.90" y="272.20" width="7.20" height="2.30" fill="#151515" />
<circle cx="396.80" cy="268.30" r="3.30" fill="#ededed" stroke="#111" stroke-width="1.2" />
<circle cx="396.80" cy="268.30" r="1.40" fill="#d0d0d0" stroke="#555" stroke-width="0.5" />
<circle cx="420.10" cy="297.30" r="3.30" fill="#ededed" stroke="#111" stroke-width="1.2" />
<circle cx="420.10" cy="297.30" r="1.40" fill="#d0d0d0" stroke="#555" stroke-width="0.5" />
<rect x="403.10" y="263.20" width="10.8" height="6.8" rx="3.4" fill="#ffffff" stroke="#111" stroke-width="0.9"/>
<text x="408.50" y="267.80" font-size="3.3" font-weight="bold" fill="#111" text-anchor="middle"  stroke="#111" stroke-width="0.15">PUSH</text>
<text x="390.70" y="284.40" font-size="3.4" font-weight="bold" fill="#222" text-anchor="middle"  stroke="#222" stroke-width="0.15">1</text>
<text x="426.30" y="284.40" font-size="3.4" font-weight="bold" fill="#222" text-anchor="middle"  stroke="#222" stroke-width="0.15">2</text>
<text x="408.50" y="305.80" font-size="3.4" font-weight="bold" fill="#222" text-anchor="middle"  stroke="#222" stroke-width="0.15">G</text>
<rect x="432.50" y="126.00" width="99.70" height="188.00" rx="3.5" fill="#cecdcc" stroke="#bab7b3" stroke-width="0.5" />
<text x="445.50" y="130.80" font-size="4.2" font-weight="bold" fill="#262626" text-anchor="start"  textLength="23.6" lengthAdjust="spacingAndGlyphs" stroke="#262626" stroke-width="0.15">TIMING M/R</text>
<text x="457.30" y="135.70" font-size="4.2" font-weight="bold" fill="#262626" text-anchor="middle"  stroke="#262626" stroke-width="0.15">1&amp;2</text>
<text x="494.60" y="130.80" font-size="4.2" font-weight="bold" fill="#262626" text-anchor="start"  textLength="23.6" lengthAdjust="spacingAndGlyphs" stroke="#262626" stroke-width="0.15">TIMING M/R</text>
<text x="506.40" y="135.70" font-size="4.2" font-weight="bold" fill="#262626" text-anchor="middle"  stroke="#262626" stroke-width="0.15">3&amp;4</text>
<line x1="433.50" y1="191.20" x2="531.20" y2="191.20" stroke="#808080" stroke-width="1.4" />
<line x1="433.50" y1="252.60" x2="531.20" y2="252.60" stroke="#808080" stroke-width="1.4" />
<rect x="437.80" y="137.30" width="39.00" height="46.40" rx="3.5" fill="#dd452c" />
<rect x="441.20" y="141.90" width="32.00" height="37.60" rx="2.5" fill="#ffffff" stroke="#1c1c1c" stroke-width="0.7" />
<circle cx="457.30" cy="160.70" r="14.20" fill="#e6e6e6" stroke="#161616" stroke-width="0.9" />
<circle cx="457.30" cy="160.70" r="11.60" fill="#2e2e2e" stroke="#0c0c0c" stroke-width="1.0" />
<circle cx="452.50" cy="160.10" r="2.10" fill="#4e4e4e" stroke="#121212" stroke-width="0.8" />
<circle cx="462.10" cy="160.10" r="2.10" fill="#4e4e4e" stroke="#121212" stroke-width="0.8" />
<circle cx="457.30" cy="165.30" r="2.10" fill="#4e4e4e" stroke="#121212" stroke-width="0.8" />
<rect x="453.70" y="149.80" width="7.20" height="2.30" fill="#151515" />
<circle cx="445.60" cy="146.00" r="3.30" fill="#ededed" stroke="#111" stroke-width="1.2" />
<circle cx="445.60" cy="146.00" r="1.40" fill="#d0d0d0" stroke="#555" stroke-width="0.5" />
<circle cx="468.90" cy="174.80" r="3.30" fill="#ededed" stroke="#111" stroke-width="1.2" />
<circle cx="468.90" cy="174.80" r="1.40" fill="#d0d0d0" stroke="#555" stroke-width="0.5" />
<rect x="451.90" y="140.90" width="10.8" height="6.8" rx="3.4" fill="#ffffff" stroke="#111" stroke-width="0.9"/>
<text x="457.30" y="145.50" font-size="3.3" font-weight="bold" fill="#111" text-anchor="middle"  stroke="#111" stroke-width="0.15">PUSH</text>
<text x="439.50" y="162.00" font-size="3.4" font-weight="bold" fill="#222" text-anchor="middle"  stroke="#222" stroke-width="0.15">1</text>
<text x="475.10" y="162.00" font-size="3.4" font-weight="bold" fill="#222" text-anchor="middle"  stroke="#222" stroke-width="0.15">2</text>
<text x="457.30" y="183.30" font-size="3.4" font-weight="bold" fill="#222" text-anchor="middle"  stroke="#222" stroke-width="0.15">G</text>
<rect x="486.80" y="137.30" width="39.10" height="46.40" rx="3.5" fill="#dd452c" />
<rect x="490.20" y="141.90" width="32.10" height="37.60" rx="2.5" fill="#ffffff" stroke="#1c1c1c" stroke-width="0.7" />
<circle cx="506.35" cy="160.70" r="14.20" fill="#e6e6e6" stroke="#161616" stroke-width="0.9" />
<circle cx="506.35" cy="160.70" r="11.60" fill="#2e2e2e" stroke="#0c0c0c" stroke-width="1.0" />
<circle cx="501.55" cy="160.10" r="2.10" fill="#4e4e4e" stroke="#121212" stroke-width="0.8" />
<circle cx="511.15" cy="160.10" r="2.10" fill="#4e4e4e" stroke="#121212" stroke-width="0.8" />
<circle cx="506.35" cy="165.30" r="2.10" fill="#4e4e4e" stroke="#121212" stroke-width="0.8" />
<rect x="502.75" y="149.80" width="7.20" height="2.30" fill="#151515" />
<circle cx="494.60" cy="146.00" r="3.30" fill="#ededed" stroke="#111" stroke-width="1.2" />
<circle cx="494.60" cy="146.00" r="1.40" fill="#d0d0d0" stroke="#555" stroke-width="0.5" />
<circle cx="518.00" cy="174.80" r="3.30" fill="#ededed" stroke="#111" stroke-width="1.2" />
<circle cx="518.00" cy="174.80" r="1.40" fill="#d0d0d0" stroke="#555" stroke-width="0.5" />
<rect x="500.95" y="140.90" width="10.8" height="6.8" rx="3.4" fill="#ffffff" stroke="#111" stroke-width="0.9"/>
<text x="506.35" y="145.50" font-size="3.3" font-weight="bold" fill="#111" text-anchor="middle"  stroke="#111" stroke-width="0.15">PUSH</text>
<text x="488.50" y="162.00" font-size="3.4" font-weight="bold" fill="#222" text-anchor="middle"  stroke="#222" stroke-width="0.15">1</text>
<text x="524.20" y="162.00" font-size="3.4" font-weight="bold" fill="#222" text-anchor="middle"  stroke="#222" stroke-width="0.15">2</text>
<text x="506.35" y="183.30" font-size="3.4" font-weight="bold" fill="#222" text-anchor="middle"  stroke="#222" stroke-width="0.15">G</text>
<rect x="437.80" y="198.10" width="39.00" height="46.90" rx="3.5" fill="#fac32c" />
<rect x="441.20" y="202.70" width="32.00" height="38.10" rx="2.5" fill="#ffffff" stroke="#1c1c1c" stroke-width="0.7" />
<circle cx="457.30" cy="221.75" r="14.20" fill="#e6e6e6" stroke="#161616" stroke-width="0.9" />
<circle cx="457.30" cy="221.75" r="11.60" fill="#2e2e2e" stroke="#0c0c0c" stroke-width="1.0" />
<circle cx="452.50" cy="221.15" r="2.10" fill="#4e4e4e" stroke="#121212" stroke-width="0.8" />
<circle cx="462.10" cy="221.15" r="2.10" fill="#4e4e4e" stroke="#121212" stroke-width="0.8" />
<circle cx="457.30" cy="226.35" r="2.10" fill="#4e4e4e" stroke="#121212" stroke-width="0.8" />
<rect x="453.70" y="210.85" width="7.20" height="2.30" fill="#151515" />
<circle cx="445.60" cy="206.80" r="3.30" fill="#ededed" stroke="#111" stroke-width="1.2" />
<circle cx="445.60" cy="206.80" r="1.40" fill="#d0d0d0" stroke="#555" stroke-width="0.5" />
<circle cx="468.90" cy="236.10" r="3.30" fill="#ededed" stroke="#111" stroke-width="1.2" />
<circle cx="468.90" cy="236.10" r="1.40" fill="#d0d0d0" stroke="#555" stroke-width="0.5" />
<rect x="451.90" y="201.70" width="10.8" height="6.8" rx="3.4" fill="#ffffff" stroke="#111" stroke-width="0.9"/>
<text x="457.30" y="206.30" font-size="3.3" font-weight="bold" fill="#111" text-anchor="middle"  stroke="#111" stroke-width="0.15">PUSH</text>
<text x="439.50" y="223.05" font-size="3.4" font-weight="bold" fill="#222" text-anchor="middle"  stroke="#222" stroke-width="0.15">1</text>
<text x="475.10" y="223.05" font-size="3.4" font-weight="bold" fill="#222" text-anchor="middle"  stroke="#222" stroke-width="0.15">2</text>
<text x="457.30" y="244.60" font-size="3.4" font-weight="bold" fill="#222" text-anchor="middle"  stroke="#222" stroke-width="0.15">G</text>
<rect x="486.80" y="198.10" width="39.10" height="46.90" rx="3.5" fill="#fac32c" />
<rect x="490.20" y="202.70" width="32.10" height="38.10" rx="2.5" fill="#ffffff" stroke="#1c1c1c" stroke-width="0.7" />
<circle cx="506.35" cy="221.75" r="14.20" fill="#e6e6e6" stroke="#161616" stroke-width="0.9" />
<circle cx="506.35" cy="221.75" r="11.60" fill="#2e2e2e" stroke="#0c0c0c" stroke-width="1.0" />
<circle cx="501.55" cy="221.15" r="2.10" fill="#4e4e4e" stroke="#121212" stroke-width="0.8" />
<circle cx="511.15" cy="221.15" r="2.10" fill="#4e4e4e" stroke="#121212" stroke-width="0.8" />
<circle cx="506.35" cy="226.35" r="2.10" fill="#4e4e4e" stroke="#121212" stroke-width="0.8" />
<rect x="502.75" y="210.85" width="7.20" height="2.30" fill="#151515" />
<circle cx="494.60" cy="206.80" r="3.30" fill="#ededed" stroke="#111" stroke-width="1.2" />
<circle cx="494.60" cy="206.80" r="1.40" fill="#d0d0d0" stroke="#555" stroke-width="0.5" />
<circle cx="518.00" cy="236.10" r="3.30" fill="#ededed" stroke="#111" stroke-width="1.2" />
<circle cx="518.00" cy="236.10" r="1.40" fill="#d0d0d0" stroke="#555" stroke-width="0.5" />
<rect x="500.95" y="201.70" width="10.8" height="6.8" rx="3.4" fill="#ffffff" stroke="#111" stroke-width="0.9"/>
<text x="506.35" y="206.30" font-size="3.3" font-weight="bold" fill="#111" text-anchor="middle"  stroke="#111" stroke-width="0.15">PUSH</text>
<text x="488.50" y="223.05" font-size="3.4" font-weight="bold" fill="#222" text-anchor="middle"  stroke="#222" stroke-width="0.15">1</text>
<text x="524.20" y="223.05" font-size="3.4" font-weight="bold" fill="#222" text-anchor="middle"  stroke="#222" stroke-width="0.15">2</text>
<text x="506.35" y="244.60" font-size="3.4" font-weight="bold" fill="#222" text-anchor="middle"  stroke="#222" stroke-width="0.15">G</text>
<rect x="437.80" y="259.60" width="39.00" height="46.60" rx="3.5" fill="#3790b3" />
<rect x="441.20" y="264.20" width="32.00" height="37.80" rx="2.5" fill="#ffffff" stroke="#1c1c1c" stroke-width="0.7" />
<circle cx="457.30" cy="283.10" r="14.20" fill="#e6e6e6" stroke="#161616" stroke-width="0.9" />
<circle cx="457.30" cy="283.10" r="11.60" fill="#2e2e2e" stroke="#0c0c0c" stroke-width="1.0" />
<circle cx="452.50" cy="282.50" r="2.10" fill="#4e4e4e" stroke="#121212" stroke-width="0.8" />
<circle cx="462.10" cy="282.50" r="2.10" fill="#4e4e4e" stroke="#121212" stroke-width="0.8" />
<circle cx="457.30" cy="287.70" r="2.10" fill="#4e4e4e" stroke="#121212" stroke-width="0.8" />
<rect x="453.70" y="272.20" width="7.20" height="2.30" fill="#151515" />
<circle cx="445.60" cy="268.30" r="3.30" fill="#ededed" stroke="#111" stroke-width="1.2" />
<circle cx="445.60" cy="268.30" r="1.40" fill="#d0d0d0" stroke="#555" stroke-width="0.5" />
<circle cx="468.90" cy="297.30" r="3.30" fill="#ededed" stroke="#111" stroke-width="1.2" />
<circle cx="468.90" cy="297.30" r="1.40" fill="#d0d0d0" stroke="#555" stroke-width="0.5" />
<rect x="451.90" y="263.20" width="10.8" height="6.8" rx="3.4" fill="#ffffff" stroke="#111" stroke-width="0.9"/>
<text x="457.30" y="267.80" font-size="3.3" font-weight="bold" fill="#111" text-anchor="middle"  stroke="#111" stroke-width="0.15">PUSH</text>
<text x="439.50" y="284.40" font-size="3.4" font-weight="bold" fill="#222" text-anchor="middle"  stroke="#222" stroke-width="0.15">1</text>
<text x="475.10" y="284.40" font-size="3.4" font-weight="bold" fill="#222" text-anchor="middle"  stroke="#222" stroke-width="0.15">2</text>
<text x="457.30" y="305.80" font-size="3.4" font-weight="bold" fill="#222" text-anchor="middle"  stroke="#222" stroke-width="0.15">G</text>
<rect x="486.80" y="259.60" width="39.10" height="46.60" rx="3.5" fill="#3790b3" />
<rect x="490.20" y="264.20" width="32.10" height="37.80" rx="2.5" fill="#ffffff" stroke="#1c1c1c" stroke-width="0.7" />
<circle cx="506.35" cy="283.10" r="14.20" fill="#e6e6e6" stroke="#161616" stroke-width="0.9" />
<circle cx="506.35" cy="283.10" r="11.60" fill="#2e2e2e" stroke="#0c0c0c" stroke-width="1.0" />
<circle cx="501.55" cy="282.50" r="2.10" fill="#4e4e4e" stroke="#121212" stroke-width="0.8" />
<circle cx="511.15" cy="282.50" r="2.10" fill="#4e4e4e" stroke="#121212" stroke-width="0.8" />
<circle cx="506.35" cy="287.70" r="2.10" fill="#4e4e4e" stroke="#121212" stroke-width="0.8" />
<rect x="502.75" y="272.20" width="7.20" height="2.30" fill="#151515" />
<circle cx="494.60" cy="268.30" r="3.30" fill="#ededed" stroke="#111" stroke-width="1.2" />
<circle cx="494.60" cy="268.30" r="1.40" fill="#d0d0d0" stroke="#555" stroke-width="0.5" />
<circle cx="518.00" cy="297.30" r="3.30" fill="#ededed" stroke="#111" stroke-width="1.2" />
<circle cx="518.00" cy="297.30" r="1.40" fill="#d0d0d0" stroke="#555" stroke-width="0.5" />
<rect x="500.95" y="263.20" width="10.8" height="6.8" rx="3.4" fill="#ffffff" stroke="#111" stroke-width="0.9"/>
<text x="506.35" y="267.80" font-size="3.3" font-weight="bold" fill="#111" text-anchor="middle"  stroke="#111" stroke-width="0.15">PUSH</text>
<text x="488.50" y="284.40" font-size="3.4" font-weight="bold" fill="#222" text-anchor="middle"  stroke="#222" stroke-width="0.15">1</text>
<text x="524.20" y="284.40" font-size="3.4" font-weight="bold" fill="#222" text-anchor="middle"  stroke="#222" stroke-width="0.15">2</text>
<text x="506.35" y="305.80" font-size="3.4" font-weight="bold" fill="#222" text-anchor="middle"  stroke="#222" stroke-width="0.15">G</text>
<path d="M568.1,131.6 Q568.1,128 571,126.3 L583,118.4 Q584.8,117.2 587,117.2 H610 Q612.2,117.2 614,118.4 L626,126.3 Q628.6,128 628.6,131.6 Q628.6,135.2 626,136.9 L614,144.8 Q612.2,146 610,146 H587 Q584.8,146 583,144.8 L571,136.9 Q568.1,135.2 568.1,131.6 Z" fill="#232323"/>
<rect x="581.00" y="118.60" width="35.00" height="26.00" rx="3" fill="#1d1d1d" stroke="#3c3c3c" stroke-width="0.8" stroke-dasharray="0.8 0.6"/>
<path d="M587.5,121.4 H610.5 L614.2,125.2 V142.2 H583.4 V125.2 Z" fill="#484848" stroke="#222" stroke-width="0.5"/>
<rect x="596.70" y="125.60" width="3.60" height="5.60" fill="#6a6a6a" stroke="#222" stroke-width="0.4" />
<rect x="588.40" y="132.40" width="3.00" height="5.60" fill="#6a6a6a" stroke="#222" stroke-width="0.4" />
<rect x="605.40" y="132.40" width="3.00" height="5.60" fill="#6a6a6a" stroke="#222" stroke-width="0.4" />
<circle cx="573.70" cy="131.60" r="3.60" fill="#f2f2f2" stroke="#111" stroke-width="0.8" />
<circle cx="573.70" cy="131.60" r="1.70" fill="#cfcfcf" stroke="#555" stroke-width="0.5" />
<circle cx="622.40" cy="131.60" r="3.60" fill="#f2f2f2" stroke="#111" stroke-width="0.8" />
<circle cx="622.40" cy="131.60" r="1.70" fill="#cfcfcf" stroke="#555" stroke-width="0.5" />
<text x="599.50" y="153.00" font-size="3.3" font-weight="normal" fill="#555555" text-anchor="middle" >100-240 V~, 50-60 Hz</text>
<text x="599.50" y="156.90" font-size="3.3" font-weight="normal" fill="#555555" text-anchor="middle" >110-250 V⎓</text>
<text x="599.50" y="160.70" font-size="3.3" font-weight="normal" fill="#555555" text-anchor="middle" >120 VA</text>
<path d="M579.6,168.4 L584.8,177.8 H574.4 Z" fill="#f3bd2c" stroke="#3a3222" stroke-width="0.7" stroke-linejoin="round"/>
<text x="579.60" y="177.00" font-size="6.5" font-weight="bold" fill="#2a2a2a" text-anchor="middle" >!</text>
<circle cx="598.30" cy="173.20" r="7.80" fill="#ffffff" stroke="#1c1c1c" stroke-width="1.3" />
<circle cx="598.30" cy="173.20" r="3.00" fill="#ffffff" stroke="#808080" stroke-width="1.3" />
<circle cx="619.90" cy="173.20" r="7.60" fill="none" stroke="#2a2a2a" stroke-width="0.9" />
<line x1="619.90" y1="167.60" x2="619.90" y2="174.20" stroke="#2a2a2a" stroke-width="0.9" />
<line x1="615.20" y1="174.20" x2="624.60" y2="174.20" stroke="#2a2a2a" stroke-width="0.9" />
<line x1="616.60" y1="176.00" x2="623.20" y2="176.00" stroke="#2a2a2a" stroke-width="0.9" />
<line x1="618.00" y1="177.80" x2="621.80" y2="177.80" stroke="#2a2a2a" stroke-width="0.9" />
<rect x="567.50" y="190.20" width="22.70" height="63.00" rx="3.5" fill="#cecdcc" stroke="#bab7b3" stroke-width="0.5" />
<text x="578.90" y="195.00" font-size="4.4" font-weight="bold" fill="#262626" text-anchor="middle"  stroke="#262626" stroke-width="0.15">DRM</text>
<circle cx="578.90" cy="211.90" r="9.10" fill="#dd452c" />
<circle cx="578.90" cy="211.90" r="6.28" fill="#1e1e1e" />
<circle cx="578.90" cy="211.90" r="4.19" fill="#484848" stroke="#b2b2b2" stroke-width="1.15" />
<circle cx="578.90" cy="211.90" r="1.93" fill="#b4b4b4" />
<circle cx="578.60" cy="211.60" r="0.84" fill="#d8d8d8" />
<circle cx="578.90" cy="231.50" r="9.10" fill="#1c1c1c" />
<circle cx="578.90" cy="231.50" r="6.28" fill="#1e1e1e" />
<circle cx="578.90" cy="231.50" r="4.19" fill="#484848" stroke="#b2b2b2" stroke-width="1.15" />
<circle cx="578.90" cy="231.50" r="1.93" fill="#b4b4b4" />
<circle cx="578.60" cy="231.20" r="0.84" fill="#d8d8d8" />
<text x="570.80" y="223.00" font-size="4.5" font-weight="bold" fill="#222" text-anchor="middle"  stroke="#222" stroke-width="0.15">+</text>
<text x="570.80" y="242.20" font-size="4.5" font-weight="bold" fill="#222" text-anchor="middle"  stroke="#222" stroke-width="0.15">−</text>
<rect x="592.90" y="190.20" width="39.50" height="63.00" rx="3.5" fill="#cecdcc" stroke="#bab7b3" stroke-width="0.5" />
<text x="612.80" y="195.00" font-size="4.4" font-weight="normal" fill="#333" text-anchor="middle" >DCM</text>
<rect x="595.10" y="196.50" width="33.20" height="24.40" rx="3.8" fill="#d8d8d8" stroke="#0e0e0e" stroke-width="1.2" />
<circle cx="611.30" cy="208.60" r="9.60" fill="#cfcfcf" stroke="#0e0e0e" stroke-width="1.3" />
<circle cx="611.30" cy="208.60" r="7.40" fill="#d9d9d9" stroke="#222" stroke-width="0.6" />
<circle cx="611.30" cy="208.60" r="6.30" fill="#1e1e1e" />
<circle cx="611.30" cy="208.60" r="3.60" fill="none" stroke="#777" stroke-width="0.8" stroke-dasharray="0.9 0.9"/>
<circle cx="611.30" cy="208.60" r="1.00" fill="#777" />
<circle cx="599.30" cy="200.90" r="2.50" fill="#111" />
<line x1="599.30" y1="198.70" x2="599.30" y2="203.10" stroke="#ddd" stroke-width="0.5" />
<circle cx="624.00" cy="200.90" r="3.10" fill="#efefef" stroke="#0e0e0e" stroke-width="1.2" />
<circle cx="624.00" cy="200.90" r="1.20" fill="#ddd" stroke="#555" stroke-width="0.4" />
<circle cx="599.60" cy="216.40" r="3.10" fill="#efefef" stroke="#0e0e0e" stroke-width="1.2" />
<circle cx="599.60" cy="216.40" r="1.20" fill="#ddd" stroke="#555" stroke-width="0.4" />
<circle cx="624.00" cy="216.40" r="2.60" fill="#ececec" stroke="#333" stroke-width="0.6" />
<path d="M597.4,206.70 l3.4,1.9 l-3.4,1.9 z" fill="none" stroke="#222" stroke-width="0.55"/>
<text x="630.60" y="209.80" font-size="3.2" font-weight="normal" fill="#333" text-anchor="middle" >1</text>
<rect x="595.10" y="222.20" width="33.20" height="24.70" rx="3.8" fill="#d8d8d8" stroke="#0e0e0e" stroke-width="1.2" />
<circle cx="611.30" cy="234.45" r="9.60" fill="#cfcfcf" stroke="#0e0e0e" stroke-width="1.3" />
<circle cx="611.30" cy="234.45" r="7.40" fill="#d9d9d9" stroke="#222" stroke-width="0.6" />
<circle cx="611.30" cy="234.45" r="6.30" fill="#1e1e1e" />
<circle cx="611.30" cy="234.45" r="3.60" fill="none" stroke="#777" stroke-width="0.8" stroke-dasharray="0.9 0.9"/>
<circle cx="611.30" cy="234.45" r="1.00" fill="#777" />
<circle cx="599.30" cy="226.60" r="2.50" fill="#111" />
<line x1="599.30" y1="224.40" x2="599.30" y2="228.80" stroke="#ddd" stroke-width="0.5" />
<circle cx="624.00" cy="226.60" r="3.10" fill="#efefef" stroke="#0e0e0e" stroke-width="1.2" />
<circle cx="624.00" cy="226.60" r="1.20" fill="#ddd" stroke="#555" stroke-width="0.4" />
<circle cx="599.60" cy="242.40" r="3.10" fill="#efefef" stroke="#0e0e0e" stroke-width="1.2" />
<circle cx="599.60" cy="242.40" r="1.20" fill="#ddd" stroke="#555" stroke-width="0.4" />
<circle cx="624.00" cy="242.40" r="2.60" fill="#ececec" stroke="#333" stroke-width="0.6" />
<path d="M597.4,232.55 l3.4,1.9 l-3.4,1.9 z" fill="none" stroke="#222" stroke-width="0.55"/>
<text x="630.60" y="235.65" font-size="3.2" font-weight="normal" fill="#333" text-anchor="middle" >2</text>
<rect x="570.30" y="261.50" width="17.00" height="7.30" rx="1" fill="#2e2e2e" stroke="#161616" stroke-width="0.7" />
<rect x="571.70" y="262.90" width="14.20" height="4.50" fill="#7e7e7e" />
<rect x="572.60" y="265.40" width="12.40" height="1.40" fill="#cdcdcd" />
<rect x="574.20" y="265.40" width="0.70" height="1.40" fill="#555" />
<rect x="577.20" y="265.40" width="0.70" height="1.40" fill="#555" />
<rect x="580.20" y="265.40" width="0.70" height="1.40" fill="#555" />
<rect x="583.20" y="265.40" width="0.70" height="1.40" fill="#555" />
<g transform="translate(594.60,265.40) scale(1.0)" stroke="#333" stroke-width="0.55" fill="none"><path d="M-4.4,0 H4.2"/><path d="M-2.4,0 L-0.4,-1.8 H1.6"/><path d="M-1.2,0 L0.8,1.8 H2.4"/><circle cx="-4.4" cy="0" r="0.8" fill="#333" stroke="none"/><path d="M4.2,-0.9 L5.6,0 L4.2,0.9 Z" fill="#333" stroke="none"/><circle cx="2" cy="-1.8" r="0.55" fill="#333" stroke="none"/><rect x="2.2" y="1.3" width="1" height="1" fill="#333" stroke="none"/></g>
<rect x="570.30" y="280.00" width="17.00" height="7.30" rx="1" fill="#2e2e2e" stroke="#161616" stroke-width="0.7" />
<rect x="571.70" y="281.40" width="14.20" height="4.50" fill="#7e7e7e" />
<rect x="572.60" y="283.90" width="12.40" height="1.40" fill="#cdcdcd" />
<rect x="574.20" y="283.90" width="0.70" height="1.40" fill="#555" />
<rect x="577.20" y="283.90" width="0.70" height="1.40" fill="#555" />
<rect x="580.20" y="283.90" width="0.70" height="1.40" fill="#555" />
<rect x="583.20" y="283.90" width="0.70" height="1.40" fill="#555" />
<g transform="translate(594.60,283.90) scale(1.0)" stroke="#333" stroke-width="0.55" fill="none"><path d="M-4.4,0 H4.2"/><path d="M-2.4,0 L-0.4,-1.8 H1.6"/><path d="M-1.2,0 L0.8,1.8 H2.4"/><circle cx="-4.4" cy="0" r="0.8" fill="#333" stroke="none"/><path d="M4.2,-0.9 L5.6,0 L4.2,0.9 Z" fill="#333" stroke="none"/><circle cx="2" cy="-1.8" r="0.55" fill="#333" stroke="none"/><rect x="2.2" y="1.3" width="1" height="1" fill="#333" stroke="none"/></g>
<rect x="570.30" y="298.00" width="17.00" height="7.30" rx="1" fill="#2e2e2e" stroke="#161616" stroke-width="0.7" />
<rect x="571.70" y="299.40" width="14.20" height="4.50" fill="#7e7e7e" />
<rect x="572.60" y="301.90" width="12.40" height="1.40" fill="#cdcdcd" />
<rect x="574.20" y="301.90" width="0.70" height="1.40" fill="#555" />
<rect x="577.20" y="301.90" width="0.70" height="1.40" fill="#555" />
<rect x="580.20" y="301.90" width="0.70" height="1.40" fill="#555" />
<rect x="583.20" y="301.90" width="0.70" height="1.40" fill="#555" />
<g transform="translate(594.60,301.90) scale(1.0)" stroke="#333" stroke-width="0.55" fill="none"><path d="M-4.4,0 H4.2"/><path d="M-2.4,0 L-0.4,-1.8 H1.6"/><path d="M-1.2,0 L0.8,1.8 H2.4"/><circle cx="-4.4" cy="0" r="0.8" fill="#333" stroke="none"/><path d="M4.2,-0.9 L5.6,0 L4.2,0.9 Z" fill="#333" stroke="none"/><circle cx="2" cy="-1.8" r="0.55" fill="#333" stroke="none"/><rect x="2.2" y="1.3" width="1" height="1" fill="#333" stroke="none"/></g>
<rect x="603.50" y="260.30" width="16.70" height="16.00" rx="1" fill="#2a2a2a" stroke="#111" stroke-width="0.6" />
<path d="M607.2,263.6 H616.6 L618.4,265.4 V272.8 H605.4 V265.4 Z" fill="#b4b4b4" stroke="#111" stroke-width="0.5"/>
<rect x="608.80" y="266.60" width="6.20" height="4.00" fill="#1a1a1a" />
<g transform="translate(628.00,268.40) scale(0.85)" stroke="#333" stroke-width="0.55" fill="none"><path d="M-4.4,0 H4.2"/><path d="M-2.4,0 L-0.4,-1.8 H1.6"/><path d="M-1.2,0 L0.8,1.8 H2.4"/><circle cx="-4.4" cy="0" r="0.8" fill="#333" stroke="none"/><path d="M4.2,-0.9 L5.6,0 L4.2,0.9 Z" fill="#333" stroke="none"/><circle cx="2" cy="-1.8" r="0.55" fill="#333" stroke="none"/><rect x="2.2" y="1.3" width="1" height="1" fill="#333" stroke="none"/></g>
<rect x="601.00" y="286.90" width="21.80" height="17.70" rx="1" fill="#f2f2f2" stroke="#222" stroke-width="0.7" />
<rect x="602.80" y="288.60" width="18.20" height="14.20" fill="#2e3238" />
<rect x="608.80" y="288.60" width="6.20" height="2.00" fill="#2f9a3c" />
<rect x="606.60" y="291.40" width="10.80" height="4.00" fill="#a9b6d0" />
<rect x="606.00" y="296.20" width="12.00" height="5.80" fill="#16181c" />
<rect x="602.80" y="289.00" width="2.60" height="1.60" fill="#d8d8d8" />
<rect x="618.40" y="289.00" width="2.60" height="1.60" fill="#d8d8d8" />
<g stroke="#666" stroke-width="0.4" fill="none"><rect x="626.3" y="292.2" width="2.6" height="1.8"/><rect x="628.6" y="297.4" width="2.6" height="1.8"/><path d="M625.4,295.8 H632.4 M627.6,294 V295.8 M629.9,295.8 V297.4"/></g>
<rect x="147.30" y="358.80" width="184.50" height="118.50" fill="#3c3c3c" stroke="#222" stroke-width="0.8" stroke-dasharray="1 0.5"/>
<rect x="147.30" y="358.80" width="184.50" height="118.50" fill="#3d3d3d" />
<line x1="147.30" y1="359.30" x2="331.80" y2="359.30" stroke="#222" stroke-width="1.2" />
<line x1="147.30" y1="476.70" x2="331.80" y2="476.70" stroke="#2a2a2a" stroke-width="1.0" />
<rect x="154.10" y="395.80" width="171.10" height="75.60" fill="#d2d6d6" />
<rect x="154.10" y="454.00" width="171.10" height="17.40" fill="#d7dada" />
<line x1="154.10" y1="454.00" x2="325.20" y2="454.00" stroke="#c3c7c7" stroke-width="0.6" />
<rect x="164.50" y="395.80" width="26.00" height="4.20" fill="#dadddd" stroke="#c6caca" stroke-width="0.4" />
<rect x="203.00" y="395.80" width="33.00" height="4.20" fill="#dadddd" stroke="#c6caca" stroke-width="0.4" />
<rect x="244.00" y="395.80" width="33.00" height="4.20" fill="#dadddd" stroke="#c6caca" stroke-width="0.4" />
<rect x="288.50" y="395.80" width="27.00" height="4.20" fill="#dadddd" stroke="#c6caca" stroke-width="0.4" />
<rect x="223.40" y="372.70" width="33.40" height="15.30" fill="#0b7a0b" stroke="#0a4d0a" stroke-width="0.7" />
<rect x="348.80" y="359.40" width="206.40" height="117.20" rx="7" fill="#707070" stroke="#2c2c2c" stroke-width="0.8" stroke-dasharray="3 1"/>
<rect x="355.10" y="361.80" width="190.80" height="113.10" fill="#fdfdfd" />
<rect x="355.10" y="361.80" width="21.10" height="113.10" fill="#f8f8f8" />
<line x1="376.20" y1="362.00" x2="376.20" y2="474.90" stroke="#e4e4e4" stroke-width="0.5" />
<line x1="355.10" y1="361.50" x2="546.00" y2="361.50" stroke="#2a2a2a" stroke-width="0.9" />
<line x1="546.40" y1="362.00" x2="546.40" y2="475.00" stroke="#3a3a3a" stroke-width="0.8" />
<line x1="355.10" y1="475.30" x2="546.00" y2="475.30" stroke="#4a4a4a" stroke-width="0.7" />
<g fill="#4a4a4a"><rect x="363.00" y="369.60" width="1.7" height="1.7"/><rect x="363.00" y="371.90" width="1.7" height="1.7"/><rect x="363.00" y="374.20" width="1.7" height="1.7"/><rect x="365.30" y="369.60" width="1.7" height="1.7"/><rect x="365.30" y="371.90" width="1.7" height="1.7"/><rect x="365.30" y="374.20" width="1.7" height="1.7"/><rect x="367.60" y="369.60" width="1.7" height="1.7"/><rect x="367.60" y="371.90" width="1.7" height="1.7"/><rect x="367.60" y="374.20" width="1.7" height="1.7"/></g>
<rect x="362.50" y="386.70" width="7.20" height="4.80" rx="0.8" fill="none" stroke="#7a7a7a" stroke-width="0.8" />
<line x1="362.50" y1="388.50" x2="369.70" y2="388.50" stroke="#7a7a7a" stroke-width="0.7" />
<line x1="363.90" y1="390.10" x2="366.30" y2="390.10" stroke="#7a7a7a" stroke-width="0.6" />
<text x="366.10" y="395.80" font-size="3.5" font-weight="normal" fill="#7a7a7a" text-anchor="middle" >Metadata</text>
<rect x="362.60" y="404.20" width="6.10" height="5.80" rx="0.6" fill="none" stroke="#d9303f" stroke-width="0.8" />
<line x1="362.60" y1="405.80" x2="368.70" y2="405.80" stroke="#d9303f" stroke-width="0.6" />
<circle cx="368.10" cy="409.10" r="1.70" fill="#fdeeee" stroke="#d9303f" stroke-width="0.7" />
<text x="366.10" y="414.30" font-size="3.5" font-weight="normal" fill="#d9303f" text-anchor="middle" >Test</text>
<circle cx="366.10" cy="425.30" r="3.50" fill="none" stroke="#7a7a7a" stroke-width="0.7" />
<line x1="366.10" y1="424.80" x2="366.10" y2="427.20" stroke="#7a7a7a" stroke-width="0.7" />
<circle cx="366.10" cy="423.60" r="0.45" fill="#7a7a7a" />
<text x="366.10" y="432.70" font-size="3.5" font-weight="normal" fill="#7a7a7a" text-anchor="middle" >Connections</text>
<rect x="362.60" y="440.90" width="7.00" height="6.40" rx="0.8" fill="none" stroke="#7a7a7a" stroke-width="0.8" />
<path d="M364.20,443.50 l1.4,1.4 l2.4,-1.8" fill="none" stroke="#7a7a7a" stroke-width="0.6"/>
<text x="366.10" y="450.80" font-size="3.5" font-weight="normal" fill="#7a7a7a" text-anchor="middle" >Results</text>
<path d="M363.50,459.00 h3.4 l1.8,1.8 v4.8 h-5.2 z" fill="none" stroke="#7a7a7a" stroke-width="0.8"/>
<rect x="365.00" y="461.70" width="2.40" height="2.60" fill="none" stroke="#7a7a7a" stroke-width="0.5" />
<text x="366.10" y="469.20" font-size="3.5" font-weight="normal" fill="#7a7a7a" text-anchor="middle" >Report</text>
<rect x="353.90" y="400.00" width="1.60" height="17.60" fill="#e4505f" />
<text x="395.30" y="376.60" font-size="4.25" font-weight="normal" fill="#5a5a5a" text-anchor="start" >Phases</text>
<rect x="395.10" y="378.30" width="20.00" height="16.20" rx="1.0" fill="#232e3b" />
<text x="405.10" y="390.30" font-size="11.2" font-weight="bold" fill="#fff" text-anchor="middle" >3</text>
<text x="433.00" y="376.60" font-size="4.25" font-weight="normal" fill="#5a5a5a" text-anchor="start" >Mechanisms</text>
<rect x="433.00" y="378.30" width="19.50" height="16.20" rx="1.0" fill="#232e3b" />
<text x="442.75" y="391.90" font-size="3.2" font-weight="bold" fill="#fff" text-anchor="middle" >Common</text>
<path d="M440.55,381.90 v2.2 l1.1,1.6 l1.1,-1.6 l1.1,1.6 l1.1,-1.6 v-2.2 M442.75,381.70 v2.4 M441.15,386.20 h3.2" fill="none" stroke="#e4e8ee" stroke-width="0.55"/>
<text x="470.50" y="376.60" font-size="4.25" font-weight="normal" fill="#5a5a5a" text-anchor="start" >Breaks</text>
<rect x="470.40" y="378.30" width="19.60" height="16.20" rx="1.0" fill="#232e3b" />
<text x="480.20" y="390.30" font-size="11.2" font-weight="bold" fill="#fff" text-anchor="middle" >1</text>
<text x="508.00" y="376.60" font-size="4.25" font-weight="normal" fill="#5a5a5a" text-anchor="start" >PIR</text>
<rect x="507.90" y="378.30" width="19.50" height="16.20" rx="1.0" fill="#232e3b" />
<text x="517.65" y="391.90" font-size="3.2" font-weight="bold" fill="#fff" text-anchor="middle" >No PIR</text>
<path d="M514.45,383.50 h1.6 l0.8,0.9 l1.0,-0.9 h2.8" fill="none" stroke="#e4e8ee" stroke-width="0.6"/>
<text x="395.30" y="401.90" font-size="4.25" font-weight="normal" fill="#5a5a5a" text-anchor="start" >Measurement type</text>
<rect x="395.10" y="403.80" width="20.00" height="16.00" rx="1.0" fill="#232e3b" />
<text x="405.10" y="417.20" font-size="3.2" font-weight="bold" fill="#fff" text-anchor="middle" >Timing</text>
<path d="M402.10,407.20 v4.4 h2.6 v-2.6 h-2.6" fill="none" stroke="#e4e8ee" stroke-width="0.6"/>
<circle cx="406.60" cy="410.20" r="1.70" fill="none" stroke="#e4e8ee" stroke-width="0.6" />
<line x1="406.60" y1="410.20" x2="407.70" y2="409.20" stroke="#e4e8ee" stroke-width="0.5" />
<text x="470.50" y="401.90" font-size="4.25" font-weight="normal" fill="#5a5a5a" text-anchor="start" >Mode</text>
<rect x="470.40" y="403.80" width="19.60" height="16.00" rx="1.0" fill="#232e3b" />
<text x="480.20" y="417.20" font-size="3.2" font-weight="bold" fill="#fff" text-anchor="middle" >Single</text>
<path d="M477.40,407.80 h1.6 l1,0.8 M480.00,407.80 h2.6 M481.80,407.80 v3.6 M480.70,410.20 l1.1,1.3 l1.1,-1.3" fill="none" stroke="#e4e8ee" stroke-width="0.6"/>
<text x="395.30" y="427.20" font-size="4.25" font-weight="normal" fill="#5a5a5a" text-anchor="start" >Measurements</text>
<rect x="395.10" y="429.30" width="20.00" height="15.90" rx="1.0" fill="#a9a9a9" />
<text x="405.10" y="442.60" font-size="3.2" font-weight="bold" fill="#efefef" text-anchor="middle" >Motion</text>
<path d="M402.30,432.30 v5.0 h5.8 M402.90,436.50 l1.4,-2.6 l1.6,1.2 l1.8,-2.4" fill="none" stroke="#e9e9e9" stroke-width="0.55"/>
<rect x="416.10" y="429.30" width="19.10" height="15.90" rx="1.0" fill="#a9a9a9" />
<text x="425.65" y="442.60" font-size="3.2" font-weight="bold" fill="#efefef" text-anchor="middle" >Aux</text>
<path d="M423.65,432.50 h2.8 l1.6,1.6 v3.4 h-4.4 z" fill="none" stroke="#e9e9e9" stroke-width="0.55"/>
<circle cx="426.65" cy="436.10" r="1.20" fill="none" stroke="#e9e9e9" stroke-width="0.5" />
<rect x="436.20" y="429.30" width="19.60" height="15.90" rx="1.0" fill="#a9a9a9" />
<text x="446.00" y="442.60" font-size="3.2" font-weight="bold" fill="#efefef" text-anchor="middle" >Coil</text>
<path d="M443.20,432.30 v5.0 h5.8 M443.60,436.90 q1.0,-5.6 2.0,-2.6 t2.8,1.6" fill="none" stroke="#e9e9e9" stroke-width="0.55"/>
<text x="395.30" y="452.40" font-size="4.25" font-weight="normal" fill="#5a5a5a" text-anchor="start" >Phase selection</text>
<rect x="395.10" y="454.50" width="18.90" height="8.50" rx="1.0" fill="#232e3b" />
<text x="404.60" y="460.20" font-size="3.6" font-weight="bold" fill="#fff" text-anchor="middle" >ABC</text>
<text x="470.50" y="452.40" font-size="4.25" font-weight="normal" fill="#5a5a5a" text-anchor="start" >Sequence</text>
<rect x="470.40" y="454.50" width="18.50" height="8.50" rx="1.0" fill="#232e3b" />
<text x="479.70" y="460.20" font-size="3.6" font-weight="bold" fill="#fff" text-anchor="middle" >C</text>
<rect x="490.00" y="454.50" width="22.90" height="8.50" rx="1.0" fill="#232e3b" />
<text x="501.40" y="460.20" font-size="3.6" font-weight="bold" fill="#fff" text-anchor="middle" >Settings</text>
<text x="497.20" y="369.60" font-size="2.9" font-weight="normal" fill="#555" text-anchor="start" letter-spacing="0.3">THRESHOLDS</text>
<circle cx="522.40" cy="368.50" r="1.10" fill="none" stroke="#666" stroke-width="0.35" />
<text x="527.90" y="369.60" font-size="2.9" font-weight="normal" fill="#555" text-anchor="start" letter-spacing="0.3">HELP</text>
<circle cx="539.60" cy="368.50" r="1.10" fill="none" stroke="#666" stroke-width="0.35" />
<circle cx="535.90" cy="464.00" r="5.30" fill="#1f8f4f" />
<path d="M533.8,464.1 l1.5,1.5 l2.7,-3" fill="none" stroke="#fff" stroke-width="0.8"/>
<rect x="575.50" y="323.60" width="58.80" height="145.60" rx="4.5" fill="#a6a19c" stroke="#2f2f2f" stroke-width="0.9" stroke-dasharray="6 0.6"/>
<rect x="576.20" y="399.60" width="57.50" height="4.60" fill="#c0c0c0" />
<line x1="576.00" y1="399.40" x2="634.00" y2="399.40" stroke="#4a4a4a" stroke-width="0.6" stroke-dasharray="5 1"/>
<line x1="576.00" y1="404.40" x2="634.00" y2="404.40" stroke="#4a4a4a" stroke-width="0.7" stroke-dasharray="5 1"/>
<circle cx="596.00" cy="345.20" r="15.20" fill="#2c2c2c" stroke="#111" stroke-width="0.8" />
<circle cx="596.00" cy="345.20" r="13.20" fill="#1b1b1b" stroke="#505050" stroke-width="0.8" />
<circle cx="596.00" cy="345.20" r="10.40" fill="#222222" />
<path d="M593.5,342.8 A3.7,3.7 0 1 0 598.5,342.8" fill="none" stroke="#8c8c8c" stroke-width="0.9"/>
<line x1="596.00" y1="341.00" x2="596.00" y2="345.40" stroke="#8c8c8c" stroke-width="0.9" />
<circle cx="622.00" cy="345.20" r="2.60" fill="#e9f5dc" stroke="#5a5a5a" stroke-width="0.8" />
<text x="582.8" y="379.2" font-size="9.9" font-weight="bold" text-anchor="start" textLength="40.2" lengthAdjust="spacingAndGlyphs"><tspan fill="#e03b25" stroke="#e03b25" stroke-width="0.5">M</tspan><tspan fill="#333333" stroke="#333333" stroke-width="0.5">egger</tspan></text>
<path d="M623.6,377.0 q1.8,1.0 0,2.6" fill="none" stroke="#e03b25" stroke-width="0.7"/>
<text x="582.9" y="386.9" font-size="5.9" font-weight="bold" fill="#333" text-anchor="start" textLength="24.2" lengthAdjust="spacingAndGlyphs">EGIL 200</text>
<text x="582.9" y="391.3" font-size="3.2" fill="#555" text-anchor="start" textLength="34.6" lengthAdjust="spacingAndGlyphs">Breaker Analyzer System</text>
<circle cx="591.80" cy="443.90" r="10.90" fill="#2a2a2a" stroke="#111" stroke-width="0.6" />
<circle cx="591.80" cy="443.00" r="9.20" fill="#3a3a3a" />
<circle cx="591.50" cy="447.60" r="7.60" fill="#333333" stroke="#0e0e0e" stroke-width="0.9" />
<line x1="590.70" y1="444.60" x2="591.30" y2="448.00" stroke="#e0e0e0" stroke-width="0.7" />
<path d="M601.0,430.6 A16.2,16.2 0 0 1 601.4,457.0" fill="none" stroke="#222" stroke-width="0.7"/>
<path d="M599.6,429.6 l3.2,0.4 l-1.4,2.8 z M600.0,457.9 l3.2,-0.4 l-1.6,-2.8 z" fill="#222"/>
<line x1="605.60" y1="443.40" x2="610.20" y2="443.40" stroke="#222" stroke-width="0.7" />
<line x1="607.90" y1="441.40" x2="607.90" y2="445.40" stroke="#222" stroke-width="0.7" />
<text x="613.30" y="431.60" font-size="3.2" font-weight="bold" fill="#333" text-anchor="start"  stroke="#333" stroke-width="0.15">OPERATE</text>
<text x="617.60" y="444.20" font-size="3.2" font-weight="bold" fill="#333" text-anchor="start"  stroke="#333" stroke-width="0.15">READY</text>
<text x="610.40" y="457.40" font-size="3.2" font-weight="bold" fill="#333" text-anchor="start"  stroke="#333" stroke-width="0.15">OPERATE &amp;</text>
<text x="610.40" y="460.80" font-size="3.2" font-weight="bold" fill="#333" text-anchor="start"  stroke="#333" stroke-width="0.15">MEASURE</text>
<path d="M163.30,47.90 L163.30,122.50" fill="none" stroke="#c9283a" stroke-width="1.2" stroke-opacity="0.9"/>
<text x="162.90" y="42.10" font-size="15.6" font-weight="bold" fill="#c9283a" text-anchor="middle">1</text>
<path d="M200.20,47.90 L200.20,239.30" fill="none" stroke="#c9283a" stroke-width="1.2" stroke-opacity="0.9"/>
<text x="199.80" y="42.10" font-size="15.6" font-weight="bold" fill="#c9283a" text-anchor="middle">2</text>
<path d="M243.70,47.90 L243.70,122.50" fill="none" stroke="#c9283a" stroke-width="1.2" stroke-opacity="0.9"/>
<text x="243.30" y="42.10" font-size="15.6" font-weight="bold" fill="#c9283a" text-anchor="middle">3</text>
<path d="M285.30,47.90 L285.30,122.50" fill="none" stroke="#c9283a" stroke-width="1.2" stroke-opacity="0.9"/>
<text x="284.90" y="42.10" font-size="15.6" font-weight="bold" fill="#c9283a" text-anchor="middle">4</text>
<path d="M321.20,47.90 L321.20,122.50" fill="none" stroke="#c9283a" stroke-width="1.2" stroke-opacity="0.9"/>
<text x="320.80" y="42.10" font-size="15.6" font-weight="bold" fill="#c9283a" text-anchor="middle">5</text>
<path d="M361.20,47.90 L361.20,122.50" fill="none" stroke="#c9283a" stroke-width="1.2" stroke-opacity="0.9"/>
<text x="360.80" y="42.10" font-size="15.6" font-weight="bold" fill="#c9283a" text-anchor="middle">6</text>
<path d="M408.80,47.90 L408.80,122.50" fill="none" stroke="#c9283a" stroke-width="1.2" stroke-opacity="0.9"/>
<text x="408.40" y="42.10" font-size="15.6" font-weight="bold" fill="#c9283a" text-anchor="middle">7</text>
<path d="M480.80,47.90 L480.80,122.50" fill="none" stroke="#c9283a" stroke-width="1.2" stroke-opacity="0.9"/>
<text x="480.40" y="42.10" font-size="15.6" font-weight="bold" fill="#c9283a" text-anchor="middle">8</text>
<path d="M693.40,211.50 L693.40,222.30 L633.80,222.30" fill="none" stroke="#c9283a" stroke-width="1.2" stroke-opacity="0.9"/>
<text x="690.60" y="208.00" font-size="15.6" font-weight="bold" fill="#c9283a" text-anchor="middle">9</text>
<path d="M693.40,271.00 L693.40,282.20 L628.90,282.20" fill="none" stroke="#c9283a" stroke-width="1.2" stroke-opacity="0.9"/>
<text x="691.60" y="267.60" font-size="15.6" font-weight="bold" fill="#c9283a" text-anchor="middle">10</text>
<path d="M693.60,396.30 L693.60,406.70 L547.40,406.70" fill="none" stroke="#c9283a" stroke-width="1.2" stroke-opacity="0.9"/>
<text x="691.00" y="393.30" font-size="15.6" font-weight="bold" fill="#c9283a" text-anchor="middle">11</text>
<path d="M693.60,434.30 L693.60,444.50 L610.00,444.50" fill="none" stroke="#c9283a" stroke-width="1.2" stroke-opacity="0.9"/>
<text x="691.10" y="430.00" font-size="15.6" font-weight="bold" fill="#c9283a" text-anchor="middle">12</text>
<path d="M460.40,438.30 L460.40,531.70" fill="none" stroke="#c9283a" stroke-width="1.2" stroke-opacity="0.9"/>
<text x="459.40" y="547.00" font-size="15.6" font-weight="bold" fill="#c9283a" text-anchor="middle">13</text>
<path d="M354.60,380.00 L354.60,531.70" fill="none" stroke="#c9283a" stroke-width="1.2" stroke-opacity="0.9"/>
<text x="353.60" y="547.00" font-size="15.6" font-weight="bold" fill="#c9283a" text-anchor="middle">14</text>
<path d="M92.50,365.50 L92.50,375.30 L152.00,375.30" fill="none" stroke="#c9283a" stroke-width="1.2" stroke-opacity="0.9"/>
<text x="91.70" y="360.00" font-size="15.6" font-weight="bold" fill="#c9283a" text-anchor="middle">15</text>
<path d="M92.50,284.80 L92.50,294.90 L234.30,294.90" fill="none" stroke="#c9283a" stroke-width="1.2" stroke-opacity="0.9"/>
<text x="92.70" y="279.80" font-size="15.6" font-weight="bold" fill="#c9283a" text-anchor="middle">16</text>
</svg>
</body></html>
